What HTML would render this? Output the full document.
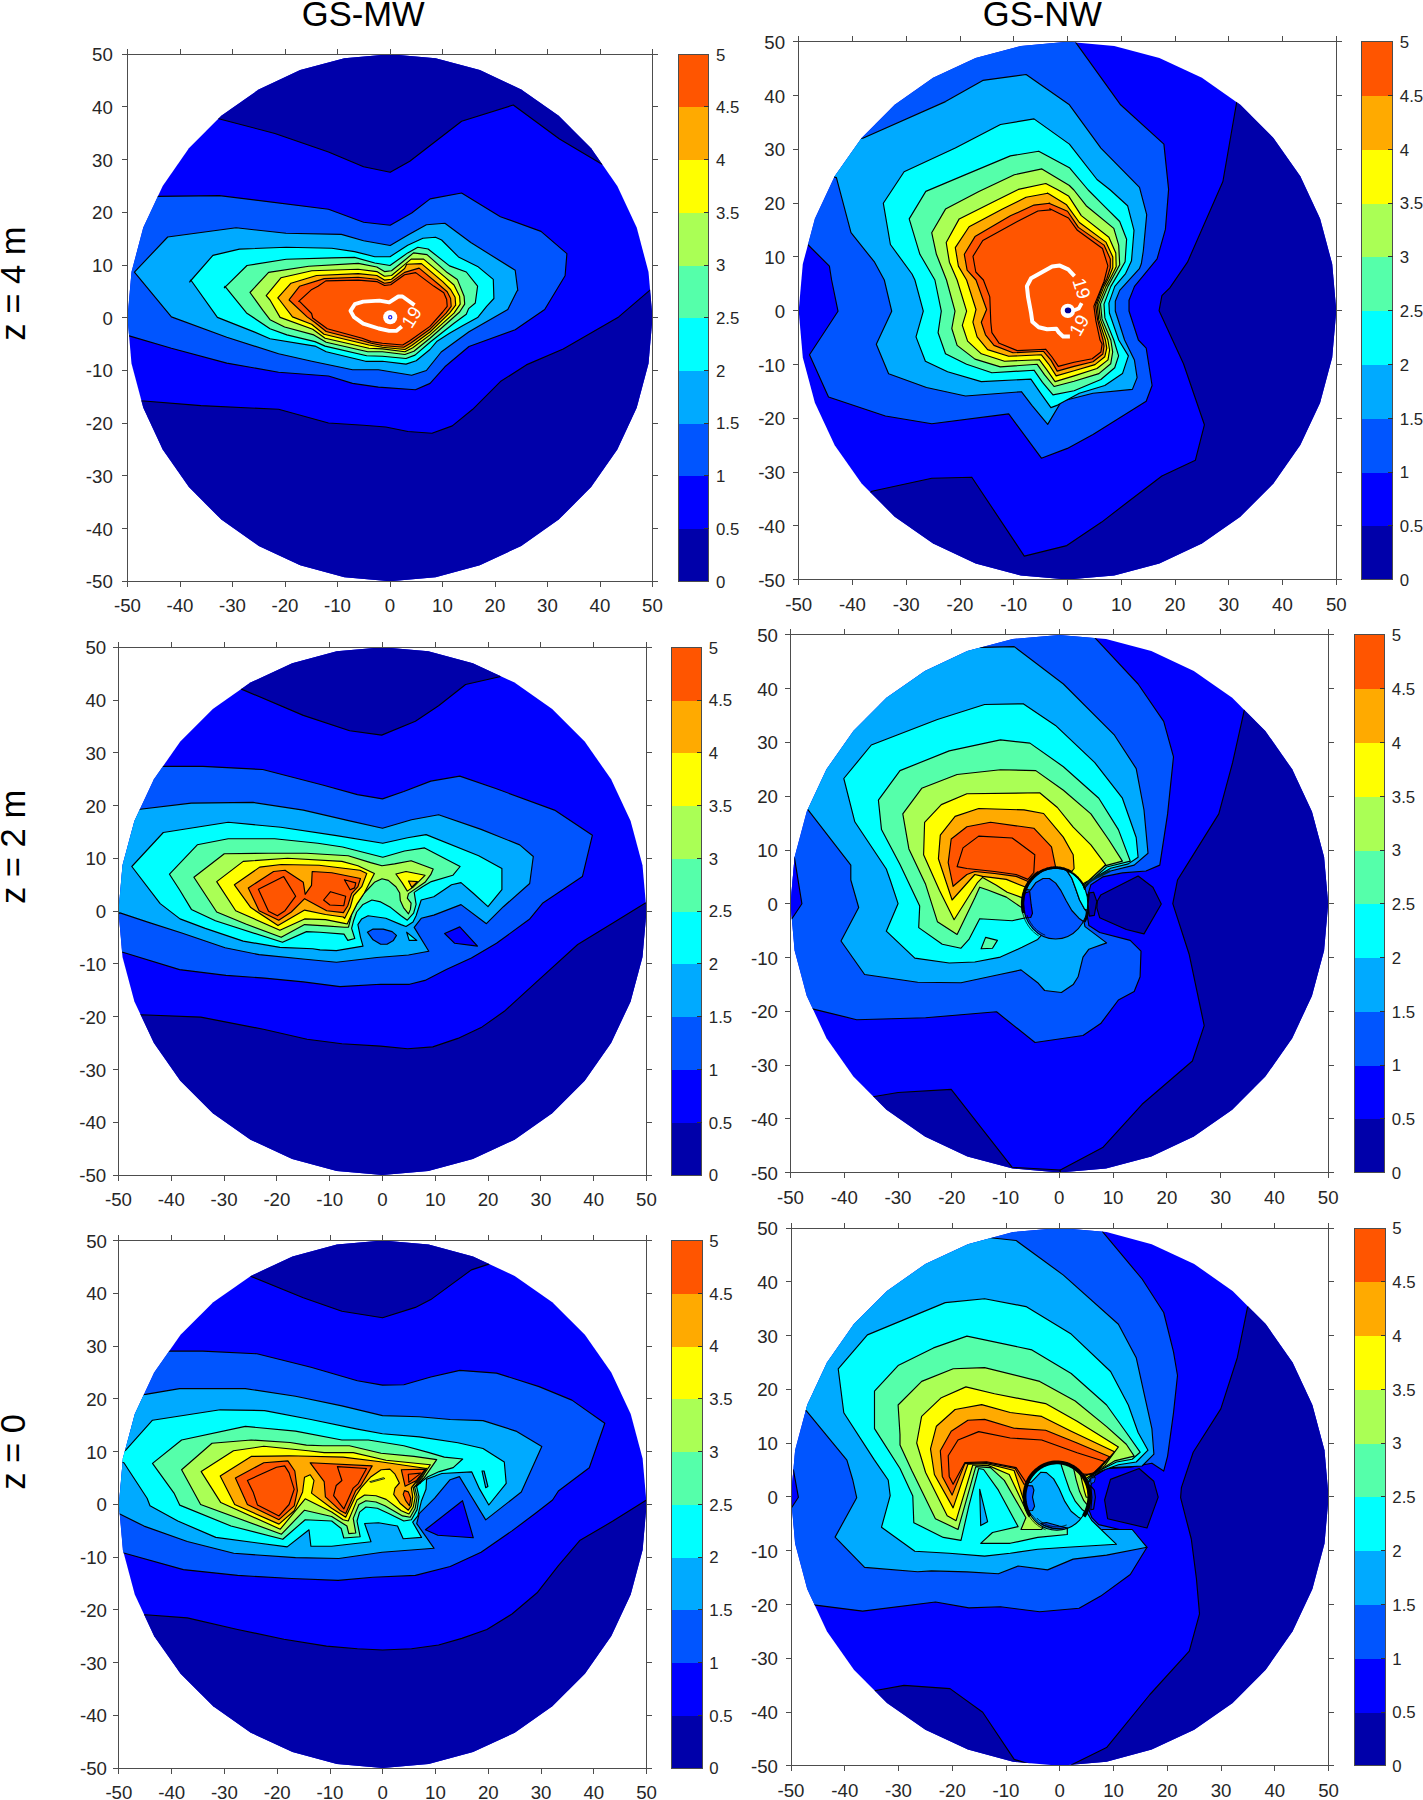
<!DOCTYPE html>
<html lang="en"><head><meta charset="utf-8"><title>Contour panels</title>
<style>
html,body{margin:0;padding:0;background:#fff;}
body{width:1423px;height:1800px;overflow:hidden;}
svg{display:block;font-family:"Liberation Sans",Arial,sans-serif;}
</style></head><body>
<svg width="1423" height="1800" viewBox="0 0 1423 1800">
<rect width="1423" height="1800" fill="#fff"/>
<clipPath id="c1"><polygon points="390.0,54.2 435.6,58.2 479.8,70.1 521.2,89.5 558.7,115.8 591.1,148.3 617.3,186.0 636.7,227.6 648.5,271.9 652.5,317.7 648.5,363.5 636.7,407.8 617.3,449.4 591.1,487.1 558.7,519.6 521.2,545.9 479.8,565.3 435.6,577.2 390.0,581.2 344.4,577.2 300.2,565.3 258.8,545.9 221.3,519.6 188.9,487.1 162.7,449.5 143.3,407.8 131.5,363.5 127.5,317.7 131.5,271.9 143.3,227.6 162.7,186.0 188.9,148.3 221.3,115.8 258.7,89.5 300.2,70.1 344.4,58.2"/></clipPath>
<g clip-path="url(#c1)">
<polygon points="0.0,0.0 800.0,0.0 800.0,700.0 0.0,700.0" fill="#0000ff"/>
<polygon points="182.5,76.2 218.7,118.7 274.9,133.5 328.5,152.0 363.6,166.8 390.2,172.3 409.8,161.2 461.6,121.3 513.3,105.0 559.5,139.0 602.0,164.2 644.6,146.4 644.6,31.8 182.5,31.8" fill="#0000aa" stroke="#000" stroke-width="1.15" stroke-linejoin="round"/>
<polygon points="97.4,392.7 141.0,400.8 200.9,405.6 278.6,409.3 328.5,423.0 363.6,425.2 385.8,427.0 408.0,431.5 432.0,433.3 452.3,425.9 472.7,409.3 500.4,381.6 526.3,364.9 563.2,349.0 618.7,316.9 652.0,288.4 681.5,267.0 681.5,636.7 90.0,636.7" fill="#0000aa" stroke="#000" stroke-width="1.15" stroke-linejoin="round"/>
<polygon points="104.8,196.3 157.7,196.3 219.4,195.6 328.5,209.3 363.6,222.2 390.2,225.2 411.7,213.0 430.1,198.9 461.6,193.0 500.4,216.7 541.0,231.4 566.9,253.6 565.1,275.8 544.7,309.5 515.2,329.8 469.0,346.5 444.9,366.8 430.1,383.4 415.4,389.7 378.4,387.1 352.5,383.4 328.5,376.0 278.6,372.3 226.8,363.1 171.4,348.3 130.0,336.1 104.8,329.8" fill="#0055ff" stroke="#000" stroke-width="1.15" stroke-linejoin="round"/>
<polygon points="134.4,272.1 167.7,237.0 236.1,227.8 286.0,233.3 341.4,234.4 363.6,240.7 390.2,245.5 408.0,235.1 426.4,224.8 444.9,223.3 470.8,242.5 515.2,270.3 517.8,290.6 517.0,291.0 507.8,309.5 469.0,331.7 441.2,352.0 426.4,370.5 411.7,375.3 378.4,369.7 352.5,369.7 311.8,361.2 278.6,353.8 226.8,337.2 171.4,316.9" fill="#00aaff" stroke="#000" stroke-width="1.15" stroke-linejoin="round"/>
<polygon points="189.6,282.0 212.9,255.4 239.4,249.1 286.2,247.3 331.8,248.3 354.6,251.6 374.8,256.7 390.0,256.7 407.7,245.3 422.9,238.2 435.5,237.2 441.6,240.0 458.5,256.9 477.6,266.4 493.3,279.4 493.9,298.5 486.6,306.3 477.6,317.6 463.0,325.5 449.5,333.3 437.1,341.2 430.0,349.5 416.2,360.7 406.0,364.1 382.4,361.3 365.6,361.3 326.2,351.7 315.0,346.1 270.0,338.8 254.1,331.9 217.4,317.4 190.8,280.0" fill="#00ffff" stroke="#000" stroke-width="1.15" stroke-linejoin="round"/>
<polygon points="224.3,287.8 247.0,265.5 286.2,259.2 331.8,257.9 354.6,257.4 374.8,263.0 390.0,265.5 407.7,252.9 417.8,247.3 428.1,249.0 449.5,265.9 466.3,272.0 477.6,286.1 475.3,303.0 468.6,308.6 466.3,314.2 454.0,323.2 430.0,342.2 415.0,355.1 406.0,358.5 382.4,356.2 366.7,355.7 325.1,346.1 315.0,341.6 286.9,334.9 270.0,328.7 246.5,312.9 225.0,286.3" fill="#55ffaa" stroke="#000" stroke-width="1.15" stroke-linejoin="round"/>
<polygon points="250.0,292.5 268.6,272.4 308.8,266.2 358.2,263.4 376.8,267.0 384.5,271.6 391.5,270.8 403.1,261.5 413.5,252.9 427.0,254.6 447.2,272.6 457.3,279.4 464.1,296.2 464.7,304.1 459.6,312.0 449.5,321.0 430.0,338.2 413.9,351.2 404.9,354.5 382.4,351.7 367.8,351.7 326.2,342.2 313.8,334.9 284.6,327.0 270.0,319.7 262.9,310.4" fill="#aaff55" stroke="#000" stroke-width="1.15" stroke-linejoin="round"/>
<polygon points="266.2,295.6 280.9,277.8 311.8,270.8 358.2,269.3 376.8,271.6 384.5,276.2 391.5,275.5 404.6,264.6 411.2,259.1 423.6,259.1 445.0,277.1 454.0,285.0 459.6,296.2 460.2,304.1 454.0,313.1 430.0,334.9 412.8,347.8 404.9,351.7 382.4,348.9 368.9,348.3 325.1,338.2 312.7,329.2 280.1,317.4 270.0,300.0" fill="#ffff00" stroke="#000" stroke-width="1.15" stroke-linejoin="round"/>
<polygon points="277.8,297.9 291.0,283.2 316.5,275.5 358.2,273.6 376.8,275.5 384.5,280.1 391.5,279.3 404.6,268.5 406.7,264.2 421.4,263.6 442.7,281.6 450.6,289.5 455.1,297.3 455.7,305.2 449.5,313.1 430.0,332.0 411.7,345.5 404.9,349.5 382.4,347.2 368.9,345.0 324.0,334.3 311.6,324.2 292.5,316.9 279.6,300.0" fill="#ffaa00" stroke="#000" stroke-width="1.15" stroke-linejoin="round"/>
<polygon points="289.4,299.4 299.5,286.3 324.2,278.6 358.2,277.3 376.8,279.3 384.5,283.2 390.7,282.4 404.6,272.4 419.1,268.1 439.4,285.0 447.2,291.7 450.6,298.5 451.2,306.3 446.1,313.1 430.0,329.2 410.5,343.3 403.8,347.2 382.4,345.5 371.2,343.3 363.3,341.0 326.2,331.5 315.0,322.5 307.1,316.9 289.1,300.0" fill="#ff5500" stroke="#000" stroke-width="1.15" stroke-linejoin="round"/>
<polygon points="298.7,301.4 311.8,289.4 318.0,286.3 325.8,280.9 358.2,280.1 376.8,281.6 384.5,285.5 390.7,284.7 404.6,274.7 415.7,272.6 433.7,286.1 443.8,292.8 446.7,299.6 447.2,306.3 442.7,312.0 430.0,326.4 409.4,341.0 402.7,345.0 382.4,343.3 371.2,341.6 362.2,338.2 327.3,328.7 312.7,318.0 311.6,313.5 299.8,301.7" fill="none" stroke="#000" stroke-width="1.15" stroke-linejoin="round" stroke-linecap="round" />
<polyline points="414.5,305.2 402.5,296.5 398.3,296.5 389.2,302.3 379.4,300.6 363.2,301.6 354.8,304.2 350.5,310.9 354.1,317.2 363.2,323.6 378.7,328.5 389.2,330.9 396.2,330.9 401.8,326.4" fill="none" stroke="#fff" stroke-width="3.90" stroke-linejoin="round" stroke-linecap="butt" />
<circle cx="390.2" cy="317.2" r="7" fill="#fff"/><circle cx="390.2" cy="317.2" r="1.6" fill="none" stroke="#2222ee" stroke-width="1.2"/>
<text x="411.5" y="317.1" font-size="18.7" fill="#fff" text-anchor="middle" transform="rotate(-58 411.5 317.1)" dy="6.6">19</text>
</g>
<g stroke="#4d4d4d" stroke-width="1" fill="none" shape-rendering="crispEdges">
<rect x="127.5" y="54.2" width="525.0" height="527.0"/>
<path d="M127.5 581.2v5.5M127.5 54.2v-5.5M127.5 54.2h-5.5M652.5 54.2h5.5"/>
<path d="M180.0 581.2v5.5M180.0 54.2v-5.5M127.5 106.9h-5.5M652.5 106.9h5.5"/>
<path d="M232.5 581.2v5.5M232.5 54.2v-5.5M127.5 159.6h-5.5M652.5 159.6h5.5"/>
<path d="M285.0 581.2v5.5M285.0 54.2v-5.5M127.5 212.3h-5.5M652.5 212.3h5.5"/>
<path d="M337.5 581.2v5.5M337.5 54.2v-5.5M127.5 265.0h-5.5M652.5 265.0h5.5"/>
<path d="M390.0 581.2v5.5M390.0 54.2v-5.5M127.5 317.7h-5.5M652.5 317.7h5.5"/>
<path d="M442.5 581.2v5.5M442.5 54.2v-5.5M127.5 370.4h-5.5M652.5 370.4h5.5"/>
<path d="M495.0 581.2v5.5M495.0 54.2v-5.5M127.5 423.1h-5.5M652.5 423.1h5.5"/>
<path d="M547.5 581.2v5.5M547.5 54.2v-5.5M127.5 475.8h-5.5M652.5 475.8h5.5"/>
<path d="M600.0 581.2v5.5M600.0 54.2v-5.5M127.5 528.5h-5.5M652.5 528.5h5.5"/>
<path d="M652.5 581.2v5.5M652.5 54.2v-5.5M127.5 581.2h-5.5M652.5 581.2h5.5"/>
</g>
<g font-size="18.67" fill="#262626">
<text x="127.5" y="612.2" text-anchor="middle">-50</text>
<text x="112.8" y="588.2" text-anchor="end">-50</text>
<text x="180.0" y="612.2" text-anchor="middle">-40</text>
<text x="112.8" y="535.5" text-anchor="end">-40</text>
<text x="232.5" y="612.2" text-anchor="middle">-30</text>
<text x="112.8" y="482.8" text-anchor="end">-30</text>
<text x="285.0" y="612.2" text-anchor="middle">-20</text>
<text x="112.8" y="430.1" text-anchor="end">-20</text>
<text x="337.5" y="612.2" text-anchor="middle">-10</text>
<text x="112.8" y="377.4" text-anchor="end">-10</text>
<text x="390.0" y="612.2" text-anchor="middle">0</text>
<text x="112.8" y="324.7" text-anchor="end">0</text>
<text x="442.5" y="612.2" text-anchor="middle">10</text>
<text x="112.8" y="272.0" text-anchor="end">10</text>
<text x="495.0" y="612.2" text-anchor="middle">20</text>
<text x="112.8" y="219.3" text-anchor="end">20</text>
<text x="547.5" y="612.2" text-anchor="middle">30</text>
<text x="112.8" y="166.6" text-anchor="end">30</text>
<text x="600.0" y="612.2" text-anchor="middle">40</text>
<text x="112.8" y="113.9" text-anchor="end">40</text>
<text x="652.5" y="612.2" text-anchor="middle">50</text>
<text x="112.8" y="61.2" text-anchor="end">50</text>
</g>
<g shape-rendering="crispEdges">
<rect x="678.3" y="528.5" width="30.4" height="53.2" fill="#0000aa"/>
<rect x="678.3" y="475.8" width="30.4" height="53.2" fill="#0000ff"/>
<rect x="678.3" y="423.1" width="30.4" height="53.2" fill="#0055ff"/>
<rect x="678.3" y="370.4" width="30.4" height="53.2" fill="#00aaff"/>
<rect x="678.3" y="317.7" width="30.4" height="53.2" fill="#00ffff"/>
<rect x="678.3" y="265.0" width="30.4" height="53.2" fill="#55ffaa"/>
<rect x="678.3" y="212.3" width="30.4" height="53.2" fill="#aaff55"/>
<rect x="678.3" y="159.6" width="30.4" height="53.2" fill="#ffff00"/>
<rect x="678.3" y="106.9" width="30.4" height="53.2" fill="#ffaa00"/>
<rect x="678.3" y="54.2" width="30.4" height="53.2" fill="#ff5500"/>
<rect x="678.3" y="54.2" width="30.4" height="527.0" fill="none" stroke="#4d4d4d" stroke-width="1"/>
<path d="M708.7 528.5h-4.5" stroke="#333" stroke-width="1"/>
<path d="M708.7 475.8h-4.5" stroke="#333" stroke-width="1"/>
<path d="M708.7 423.1h-4.5" stroke="#333" stroke-width="1"/>
<path d="M708.7 370.4h-4.5" stroke="#333" stroke-width="1"/>
<path d="M708.7 317.7h-4.5" stroke="#333" stroke-width="1"/>
<path d="M708.7 265.0h-4.5" stroke="#333" stroke-width="1"/>
<path d="M708.7 212.3h-4.5" stroke="#333" stroke-width="1"/>
<path d="M708.7 159.6h-4.5" stroke="#333" stroke-width="1"/>
<path d="M708.7 106.9h-4.5" stroke="#333" stroke-width="1"/>
</g>
<g font-size="16.8" fill="#262626">
<text x="716.0" y="587.5">0</text>
<text x="716.0" y="534.8">0.5</text>
<text x="716.0" y="482.1">1</text>
<text x="716.0" y="429.4">1.5</text>
<text x="716.0" y="376.7">2</text>
<text x="716.0" y="324.0">2.5</text>
<text x="716.0" y="271.3">3</text>
<text x="716.0" y="218.6">3.5</text>
<text x="716.0" y="165.9">4</text>
<text x="716.0" y="113.2">4.5</text>
<text x="716.0" y="60.5">5</text>
</g>
<clipPath id="c2"><polygon points="1067.5,41.8 1114.2,45.9 1159.4,58.0 1201.9,77.8 1240.3,104.7 1273.4,137.9 1300.3,176.2 1320.1,218.7 1332.2,264.0 1336.3,310.7 1332.2,357.4 1320.1,402.7 1300.3,445.1 1273.4,483.5 1240.3,516.7 1201.9,543.6 1159.4,563.4 1114.2,575.5 1067.5,579.6 1020.8,575.5 975.6,563.4 933.1,543.6 894.7,516.7 861.6,483.5 834.7,445.2 814.9,402.7 802.8,357.4 798.7,310.7 802.8,264.0 814.9,218.7 834.7,176.2 861.6,137.9 894.7,104.7 933.1,77.8 975.6,58.0 1020.8,45.9"/></clipPath>
<g clip-path="url(#c2)">
<polygon points="700.0,0.0 1423.0,0.0 1423.0,700.0 700.0,700.0" fill="#0000ff"/>
<polygon points="1236.7,102.0 1222.9,181.5 1187.5,262.2 1169.8,287.8 1161.9,295.6 1159.1,310.7 1183.5,363.8 1204.4,424.8 1195.4,460.2 1161.9,476.0 1128.4,501.5 1101.7,522.1 1066.8,545.6 1024.3,556.1 971.8,477.2 931.8,478.2 871.9,491.2 811.9,549.6 811.9,649.5 1461.5,649.5 1461.5,50.0 1261.6,50.0" fill="#0000aa" stroke="#000" stroke-width="1.15" stroke-linejoin="round"/>
<polygon points="1075.3,-9.4 1075.3,41.8 1120.6,104.8 1163.9,144.1 1168.6,189.4 1165.4,229.4 1157.1,258.9 1134.5,286.4 1129.0,300.2 1129.0,311.0 1138.4,340.0 1146.2,348.1 1152.1,385.5 1146.2,401.2 1093.0,434.6 1067.4,448.4 1041.4,458.2 1008.7,413.9 931.8,423.8 885.4,416.0 828.5,397.0 809.5,354.8 838.0,311.2 831.6,280.0 829.4,266.1 807.7,244.5 770.3,226.8 750.6,148.1 750.6,-9.4" fill="#0055ff" stroke="#000" stroke-width="1.15" stroke-linejoin="round"/>
<polygon points="829.4,140.2 862.8,138.2 945.5,101.6 982.8,80.4 1026.1,74.5 1069.4,104.8 1100.9,148.1 1139.5,187.4 1146.7,214.6 1143.3,251.0 1141.3,263.8 1139.4,268.7 1119.7,290.4 1115.3,301.2 1115.3,311.0 1124.6,340.0 1134.4,359.9 1137.1,377.6 1132.4,389.4 1093.0,393.3 1061.5,401.2 1047.7,424.4 1031.9,405.4 1021.4,391.7 965.5,396.0 926.5,387.5 888.6,373.8 876.3,344.3 891.7,311.2 884.3,280.0 874.6,262.2 851.0,232.7 836.4,177.6 813.6,171.7" fill="#00aaff" stroke="#000" stroke-width="1.15" stroke-linejoin="round"/>
<polygon points="912.0,274.0 890.4,244.5 883.3,203.2 904.1,171.7 955.3,148.1 1000.5,124.5 1034.0,118.9 1069.4,144.1 1097.0,179.5 1110.3,190.0 1127.6,205.7 1134.0,230.3 1131.5,260.8 1125.6,273.6 1114.8,286.4 1108.9,303.1 1109.4,313.0 1118.7,340.0 1128.4,355.9 1122.5,373.6 1104.8,385.5 1079.3,393.3 1057.6,405.1 1050.9,407.6 1040.4,392.8 1030.9,379.1 981.3,381.6 947.6,371.7 925.4,361.2 916.0,336.9 923.3,311.2 914.9,280.0" fill="#00ffff" stroke="#000" stroke-width="1.15" stroke-linejoin="round"/>
<polygon points="919.9,254.3 909.2,218.9 925.8,191.4 963.2,175.6 1010.4,155.9 1038.7,151.2 1069.4,167.7 1088.2,190.0 1103.0,204.8 1119.7,221.5 1126.6,239.2 1125.1,261.8 1117.7,274.6 1110.8,286.4 1104.0,304.1 1104.9,317.9 1113.8,340.0 1118.6,355.9 1114.7,367.7 1100.9,379.5 1074.1,390.7 1053.0,394.9 1042.5,382.3 1034.0,370.2 991.9,372.8 966.6,364.3 945.5,353.8 938.1,332.7 941.3,311.2 934.9,280.0" fill="#55ffaa" stroke="#000" stroke-width="1.15" stroke-linejoin="round"/>
<polygon points="936.4,254.3 931.7,232.7 945.5,209.1 978.9,191.4 1014.3,174.8 1041.9,168.9 1069.4,185.5 1073.9,190.0 1086.2,205.7 1113.8,228.4 1118.7,245.1 1119.7,264.8 1113.3,276.6 1107.9,286.4 1100.5,304.1 1102.0,318.9 1110.8,340.0 1112.7,352.0 1110.7,363.8 1098.9,373.6 1074.1,381.2 1054.1,386.5 1044.6,374.9 1037.2,364.3 1000.3,366.9 975.0,359.1 957.1,345.4 951.8,328.5 955.0,311.2 946.5,280.0" fill="#aaff55" stroke="#000" stroke-width="1.15" stroke-linejoin="round"/>
<polygon points="949.4,262.2 946.2,242.5 959.2,218.9 994.6,201.2 1018.3,189.4 1045.8,183.5 1058.2,190.0 1068.5,195.9 1081.3,215.6 1108.9,237.2 1115.8,253.0 1116.2,266.7 1110.3,278.5 1105.9,286.4 1098.7,304.1 1100.2,318.9 1107.9,340.0 1109.6,350.0 1108.0,359.9 1097.0,368.5 1074.1,375.9 1055.1,381.6 1046.7,369.6 1039.3,359.7 1004.5,361.2 981.3,353.8 967.6,341.1 962.3,325.3 966.6,311.2 957.1,280.0" fill="#ffff00" stroke="#000" stroke-width="1.15" stroke-linejoin="round"/>
<polygon points="958.4,266.1 955.3,247.6 969.1,226.8 1002.5,209.1 1026.1,197.3 1047.8,193.3 1047.4,193.0 1066.6,204.8 1079.4,222.5 1105.9,242.1 1112.8,256.9 1112.8,267.7 1108.4,278.5 1104.0,286.4 1097.1,304.1 1098.8,319.9 1105.4,340.0 1106.8,348.1 1104.8,356.7 1095.0,364.6 1074.1,370.7 1056.2,375.9 1048.8,364.3 1041.4,354.8 1008.7,356.3 987.6,349.6 977.1,336.9 972.9,322.2 976.0,309.5 966.6,280.0" fill="#ffaa00" stroke="#000" stroke-width="1.15" stroke-linejoin="round"/>
<polygon points="967.1,270.1 964.3,254.3 975.0,236.6 1010.4,215.8 1034.0,205.1 1049.7,203.2 1048.9,203.3 1067.5,211.2 1078.4,227.4 1104.0,245.1 1110.3,258.9 1110.3,267.7 1106.9,278.5 1102.5,286.4 1095.6,305.1 1097.6,319.9 1103.0,340.0 1104.0,346.1 1102.9,354.0 1093.0,361.8 1074.1,366.4 1057.2,371.1 1050.9,360.1 1043.5,351.3 1012.9,352.7 994.0,345.4 985.5,334.8 981.3,322.2 986.6,309.5 976.0,280.0" fill="#ff5500" stroke="#000" stroke-width="1.15" stroke-linejoin="round"/>
<polygon points="975.8,272.0 973.0,256.3 982.8,240.5 1018.3,220.9 1037.9,211.0 1050.5,209.9 1049.8,208.7 1068.5,218.0 1077.4,230.3 1102.5,248.5 1107.9,265.8 1104.0,281.5 1093.9,306.1 1095.9,320.9 1100.0,340.0 1102.1,344.1 1100.9,352.0 1092.2,358.7 1074.1,362.2 1058.3,366.4 1052.0,357.0 1045.6,349.2 1017.2,350.6 999.2,343.3 991.9,332.7 990.8,322.2 989.8,296.9 983.4,280.0" fill="none" stroke="#000" stroke-width="1.15" stroke-linejoin="round" stroke-linecap="round" />
<polyline points="1074.5,276.1 1068.2,269.4 1059.8,265.6 1052.2,266.4 1031.1,278.3 1026.9,286.3 1028.1,297.2 1031.1,313.2 1032.3,321.7 1038.7,327.2 1047.1,329.3 1056.4,328.8 1058.9,332.6 1063.1,336.4 1069.9,336.4" fill="none" stroke="#fff" stroke-width="4.00" stroke-linejoin="round" stroke-linecap="butt" />
<circle cx="1067.8" cy="310.9" r="7.2" fill="#fff"/>
<polyline points="1072.4,311.1 1078.7,308.6 1081.7,303.1" fill="none" stroke="#fff" stroke-width="3.80" stroke-linejoin="round" stroke-linecap="butt" />
<ellipse cx="1068.0" cy="310.4" rx="3.2" ry="2.8" fill="#000096"/>
<text x="1081.7" y="288.4" font-size="18.7" fill="#fff" text-anchor="middle" transform="rotate(73 1081.7 288.4)" dy="6.6">19</text>
<text x="1079.0" y="325.3" font-size="18.7" fill="#fff" text-anchor="middle" transform="rotate(-61 1079.0 325.3)" dy="6.6">19</text>
</g>
<g stroke="#4d4d4d" stroke-width="1" fill="none" shape-rendering="crispEdges">
<rect x="798.7" y="41.8" width="537.6" height="537.8"/>
<path d="M798.7 579.6v5.5M798.7 41.8v-5.5M798.7 41.8h-5.5M1336.3 41.8h5.5"/>
<path d="M852.5 579.6v5.5M852.5 41.8v-5.5M798.7 95.6h-5.5M1336.3 95.6h5.5"/>
<path d="M906.2 579.6v5.5M906.2 41.8v-5.5M798.7 149.4h-5.5M1336.3 149.4h5.5"/>
<path d="M960.0 579.6v5.5M960.0 41.8v-5.5M798.7 203.1h-5.5M1336.3 203.1h5.5"/>
<path d="M1013.7 579.6v5.5M1013.7 41.8v-5.5M798.7 256.9h-5.5M1336.3 256.9h5.5"/>
<path d="M1067.5 579.6v5.5M1067.5 41.8v-5.5M798.7 310.7h-5.5M1336.3 310.7h5.5"/>
<path d="M1121.3 579.6v5.5M1121.3 41.8v-5.5M798.7 364.5h-5.5M1336.3 364.5h5.5"/>
<path d="M1175.0 579.6v5.5M1175.0 41.8v-5.5M798.7 418.3h-5.5M1336.3 418.3h5.5"/>
<path d="M1228.8 579.6v5.5M1228.8 41.8v-5.5M798.7 472.0h-5.5M1336.3 472.0h5.5"/>
<path d="M1282.5 579.6v5.5M1282.5 41.8v-5.5M798.7 525.8h-5.5M1336.3 525.8h5.5"/>
<path d="M1336.3 579.6v5.5M1336.3 41.8v-5.5M798.7 579.6h-5.5M1336.3 579.6h5.5"/>
</g>
<g font-size="18.67" fill="#262626">
<text x="798.7" y="610.6" text-anchor="middle">-50</text>
<text x="785.1" y="586.6" text-anchor="end">-50</text>
<text x="852.5" y="610.6" text-anchor="middle">-40</text>
<text x="785.1" y="532.8" text-anchor="end">-40</text>
<text x="906.2" y="610.6" text-anchor="middle">-30</text>
<text x="785.1" y="479.0" text-anchor="end">-30</text>
<text x="960.0" y="610.6" text-anchor="middle">-20</text>
<text x="785.1" y="425.3" text-anchor="end">-20</text>
<text x="1013.7" y="610.6" text-anchor="middle">-10</text>
<text x="785.1" y="371.5" text-anchor="end">-10</text>
<text x="1067.5" y="610.6" text-anchor="middle">0</text>
<text x="785.1" y="317.7" text-anchor="end">0</text>
<text x="1121.3" y="610.6" text-anchor="middle">10</text>
<text x="785.1" y="263.9" text-anchor="end">10</text>
<text x="1175.0" y="610.6" text-anchor="middle">20</text>
<text x="785.1" y="210.1" text-anchor="end">20</text>
<text x="1228.8" y="610.6" text-anchor="middle">30</text>
<text x="785.1" y="156.4" text-anchor="end">30</text>
<text x="1282.5" y="610.6" text-anchor="middle">40</text>
<text x="785.1" y="102.6" text-anchor="end">40</text>
<text x="1336.3" y="610.6" text-anchor="middle">50</text>
<text x="785.1" y="48.8" text-anchor="end">50</text>
</g>
<g shape-rendering="crispEdges">
<rect x="1361.5" y="525.8" width="31.0" height="54.3" fill="#0000aa"/>
<rect x="1361.5" y="472.0" width="31.0" height="54.3" fill="#0000ff"/>
<rect x="1361.5" y="418.3" width="31.0" height="54.3" fill="#0055ff"/>
<rect x="1361.5" y="364.5" width="31.0" height="54.3" fill="#00aaff"/>
<rect x="1361.5" y="310.7" width="31.0" height="54.3" fill="#00ffff"/>
<rect x="1361.5" y="256.9" width="31.0" height="54.3" fill="#55ffaa"/>
<rect x="1361.5" y="203.1" width="31.0" height="54.3" fill="#aaff55"/>
<rect x="1361.5" y="149.4" width="31.0" height="54.3" fill="#ffff00"/>
<rect x="1361.5" y="95.6" width="31.0" height="54.3" fill="#ffaa00"/>
<rect x="1361.5" y="41.8" width="31.0" height="54.3" fill="#ff5500"/>
<rect x="1361.5" y="41.8" width="31.0" height="537.8" fill="none" stroke="#4d4d4d" stroke-width="1"/>
<path d="M1392.5 525.8h-4.5" stroke="#333" stroke-width="1"/>
<path d="M1392.5 472.0h-4.5" stroke="#333" stroke-width="1"/>
<path d="M1392.5 418.3h-4.5" stroke="#333" stroke-width="1"/>
<path d="M1392.5 364.5h-4.5" stroke="#333" stroke-width="1"/>
<path d="M1392.5 310.7h-4.5" stroke="#333" stroke-width="1"/>
<path d="M1392.5 256.9h-4.5" stroke="#333" stroke-width="1"/>
<path d="M1392.5 203.1h-4.5" stroke="#333" stroke-width="1"/>
<path d="M1392.5 149.4h-4.5" stroke="#333" stroke-width="1"/>
<path d="M1392.5 95.6h-4.5" stroke="#333" stroke-width="1"/>
</g>
<g font-size="16.8" fill="#262626">
<text x="1399.8" y="585.9">0</text>
<text x="1399.8" y="532.1">0.5</text>
<text x="1399.8" y="478.3">1</text>
<text x="1399.8" y="424.6">1.5</text>
<text x="1399.8" y="370.8">2</text>
<text x="1399.8" y="317.0">2.5</text>
<text x="1399.8" y="263.2">3</text>
<text x="1399.8" y="209.4">3.5</text>
<text x="1399.8" y="155.7">4</text>
<text x="1399.8" y="101.9">4.5</text>
<text x="1399.8" y="48.1">5</text>
</g>
<clipPath id="c3"><polygon points="382.5,647.3 428.3,651.3 472.8,663.2 514.5,682.6 552.2,709.0 584.7,741.6 611.1,779.2 630.6,820.9 642.5,865.3 646.5,911.1 642.5,957.0 630.6,1001.4 611.1,1043.1 584.7,1080.7 552.2,1113.3 514.5,1139.7 472.8,1159.1 428.3,1171.0 382.5,1175.0 336.7,1171.0 292.2,1159.1 250.5,1139.7 212.8,1113.3 180.3,1080.7 153.9,1043.1 134.4,1001.4 122.5,957.0 118.5,911.1 122.5,865.3 134.4,820.9 153.9,779.2 180.3,741.6 212.8,709.0 250.5,682.6 292.2,663.2 336.7,651.3"/></clipPath>
<g clip-path="url(#c3)">
<polygon points="0.0,600.0 712.0,600.0 712.0,1250.0 0.0,1250.0" fill="#0000ff"/>
<polygon points="226.0,663.2 241.4,689.1 303.3,715.4 349.7,730.8 381.7,735.1 415.4,721.2 438.6,705.7 465.6,684.5 499.6,676.7 515.9,655.5 515.9,616.8 226.0,616.8" fill="#0000aa" stroke="#000" stroke-width="1.15" stroke-linejoin="round"/>
<polygon points="110.0,1014.8 140.9,1014.8 200.8,1017.1 264.6,1029.5 307.1,1039.2 341.9,1043.8 380.6,1046.1 407.6,1048.8 432.8,1046.9 457.9,1038.4 481.1,1027.6 504.3,1011.3 535.2,983.1 577.7,944.5 612.5,923.2 645.4,903.1 674.4,892.3 674.4,1209.2 90.7,1209.2" fill="#0000aa" stroke="#000" stroke-width="1.15" stroke-linejoin="round"/>
<polygon points="133.2,766.4 163.3,766.4 202.8,766.4 262.7,769.5 322.6,785.0 357.4,794.6 382.5,798.9 403.8,791.5 430.8,781.1 459.8,776.1 496.5,788.8 554.5,810.1 592.4,835.2 582.4,876.6 542.9,902.9 529.4,919.3 496.5,943.3 471.4,958.0 446.3,969.6 425.0,980.4 409.6,984.3 380.6,984.3 340.0,986.6 303.3,981.9 264.6,978.1 226.0,975.4 179.6,969.6 122.8,952.2 94.5,946.4" fill="#0055ff" stroke="#000" stroke-width="1.15" stroke-linejoin="round"/>
<polygon points="444.6,933.5 459.8,926.9 477.5,946.1 454.7,943.3" fill="#0000ff" stroke="#000" stroke-width="1.15" stroke-linejoin="round"/>
<polygon points="110.0,810.1 140.2,809.3 191.2,803.1 253.0,802.4 303.3,810.1 349.7,820.9 382.5,828.2 411.5,819.7 438.6,814.7 481.1,829.4 519.7,844.9 533.3,856.5 529.7,883.5 503.4,906.7 486.4,923.7 461.0,904.6 433.8,915.1 421.2,918.3 414.2,927.4 428.8,951.2 408.5,955.0 376.9,957.5 336.5,962.3 305.5,959.2 259.1,954.6 225.1,947.8 181.8,933.0 147.8,922.1 120.0,912.9 107.6,914.4" fill="#00aaff" stroke="#000" stroke-width="1.15" stroke-linejoin="round"/>
<polygon points="367.4,932.2 373.1,929.1 383.2,929.1 392.1,931.6 396.5,935.4 393.4,940.4 387.0,944.2 380.7,944.2 373.1,939.8" fill="#0055ff" stroke="#000" stroke-width="1.15" stroke-linejoin="round"/>
<polygon points="131.8,866.5 163.3,832.5 228.2,822.3 280.8,827.2 336.5,835.6 382.8,843.3 407.6,837.7 426.1,834.6 478.7,855.7 501.9,868.6 501.9,889.7 488.0,906.7 473.0,893.0 461.0,882.6 451.5,884.8 433.8,896.8 421.2,900.0 416.1,915.8 413.0,922.1 406.0,926.5 401.0,924.6 385.8,918.3 368.1,915.8 361.7,918.9 357.9,924.6 360.5,937.3 363.0,946.1 336.4,950.6 320.0,949.9 312.8,948.7 279.9,947.4 243.2,941.1 205.3,928.4 180.0,918.9 160.2,903.6" fill="#00ffff" stroke="#000" stroke-width="1.15" stroke-linejoin="round"/>
<polygon points="406.6,932.2 416.8,940.4 409.2,940.4" fill="#00ffff" stroke="#000" stroke-width="1.15" stroke-linejoin="round"/>
<polygon points="169.5,874.2 197.3,844.8 228.2,838.7 274.6,838.7 317.9,843.3 342.6,847.0 382.8,857.2 404.5,851.0 424.6,847.9 460.1,866.5 452.8,875.3 431.3,881.6 422.5,886.7 414.2,892.4 416.1,904.4 413.6,913.2 407.3,920.2 401.0,915.8 390.8,907.6 380.7,901.9 371.9,900.0 363.0,904.4 356.7,912.0 353.5,920.8 351.6,928.4 354.8,938.5 347.8,940.4 344.0,934.1 320.0,932.2 306.5,931.6 282.5,942.3 215.4,920.8 191.4,909.4 180.0,890.5" fill="#55ffaa" stroke="#000" stroke-width="1.15" stroke-linejoin="round"/>
<polygon points="193.9,877.2 224.3,853.8 268.5,853.2 306.5,853.2 348.2,855.7 370.6,862.6 382.0,865.8 394.6,863.9 411.1,860.8 433.2,869.0 430.7,874.7 425.0,882.3 408.5,893.6 407.3,898.1 411.1,903.1 410.4,909.4 408.5,913.9 403.5,907.6 400.3,900.6 399.7,893.0 395.9,886.7 388.3,880.4 382.0,878.8 374.4,882.3 364.3,893.0 356.7,904.4 351.6,914.5 348.5,927.2 344.4,927.2 325.5,925.9 304.6,924.6 281.2,937.3 245.8,924.0 216.7,912.0" fill="#aaff55" stroke="#000" stroke-width="1.15" stroke-linejoin="round"/>
<polygon points="216.7,881.6 243.2,861.4 287.5,858.2 341.9,861.4 357.9,865.8 374.4,873.4 364.3,893.0 356.7,904.4 351.6,914.5 347.2,924.0 344.4,923.4 325.5,919.6 304.6,918.9 279.9,930.3 235.7,910.7" fill="#ffff00" stroke="#000" stroke-width="1.15" stroke-linejoin="round"/>
<polygon points="395.9,874.0 406.0,871.5 425.0,875.3 413.6,886.7 407.3,891.1 402.2,882.9" fill="#ffff00" stroke="#000" stroke-width="1.15" stroke-linejoin="round"/>
<polygon points="408.5,881.0 417.4,881.6 411.7,887.3" fill="#ffaa00" stroke="#000" stroke-width="1.15" stroke-linejoin="round"/>
<polygon points="234.4,884.8 259.7,867.1 281.2,864.5 319.1,865.2 360.0,870.2 366.8,873.4 361.7,886.7 353.5,895.5 350.4,906.9 344.7,918.3 343.2,917.0 325.5,914.5 304.6,910.1 278.0,925.6 250.8,907.6" fill="#ffaa00" stroke="#000" stroke-width="1.15" stroke-linejoin="round"/>
<polygon points="248.3,887.9 273.6,871.5 285.0,870.2 303.3,882.3 305.2,894.3 311.5,885.4 312.2,871.5 331.8,872.8 360.5,878.5 357.9,886.7 351.6,893.6 347.8,905.7 343.4,912.6 326.7,910.7 304.6,898.7 291.3,912.0 278.7,920.2 259.1,910.7" fill="#ff5500" stroke="#000" stroke-width="1.15" stroke-linejoin="round"/>
<polygon points="258.4,889.2 283.7,876.6 295.7,896.2 285.0,910.7 277.4,915.8 268.5,911.3" fill="none" stroke="#000" stroke-width="1.15" stroke-linejoin="round" stroke-linecap="round" />
<polygon points="323.6,900.0 330.5,891.7 345.7,896.2 343.8,905.7 329.9,905.0" fill="none" stroke="#000" stroke-width="1.15" stroke-linejoin="round" stroke-linecap="round" />
<polygon points="344.4,879.7 355.8,882.9 354.6,887.9 350.1,889.8" fill="none" stroke="#000" stroke-width="1.15" stroke-linejoin="round" stroke-linecap="round" />
</g>
<g stroke="#4d4d4d" stroke-width="1" fill="none" shape-rendering="crispEdges">
<rect x="118.5" y="647.3" width="528.0" height="527.7"/>
<path d="M118.5 1175.0v5.5M118.5 647.3v-5.5M118.5 647.3h-5.5M646.5 647.3h5.5"/>
<path d="M171.3 1175.0v5.5M171.3 647.3v-5.5M118.5 700.1h-5.5M646.5 700.1h5.5"/>
<path d="M224.1 1175.0v5.5M224.1 647.3v-5.5M118.5 752.8h-5.5M646.5 752.8h5.5"/>
<path d="M276.9 1175.0v5.5M276.9 647.3v-5.5M118.5 805.6h-5.5M646.5 805.6h5.5"/>
<path d="M329.7 1175.0v5.5M329.7 647.3v-5.5M118.5 858.4h-5.5M646.5 858.4h5.5"/>
<path d="M382.5 1175.0v5.5M382.5 647.3v-5.5M118.5 911.1h-5.5M646.5 911.1h5.5"/>
<path d="M435.3 1175.0v5.5M435.3 647.3v-5.5M118.5 963.9h-5.5M646.5 963.9h5.5"/>
<path d="M488.1 1175.0v5.5M488.1 647.3v-5.5M118.5 1016.7h-5.5M646.5 1016.7h5.5"/>
<path d="M540.9 1175.0v5.5M540.9 647.3v-5.5M118.5 1069.5h-5.5M646.5 1069.5h5.5"/>
<path d="M593.7 1175.0v5.5M593.7 647.3v-5.5M118.5 1122.2h-5.5M646.5 1122.2h5.5"/>
<path d="M646.5 1175.0v5.5M646.5 647.3v-5.5M118.5 1175.0h-5.5M646.5 1175.0h5.5"/>
</g>
<g font-size="18.67" fill="#262626">
<text x="118.5" y="1206.0" text-anchor="middle">-50</text>
<text x="106.2" y="1182.0" text-anchor="end">-50</text>
<text x="171.3" y="1206.0" text-anchor="middle">-40</text>
<text x="106.2" y="1129.2" text-anchor="end">-40</text>
<text x="224.1" y="1206.0" text-anchor="middle">-30</text>
<text x="106.2" y="1076.5" text-anchor="end">-30</text>
<text x="276.9" y="1206.0" text-anchor="middle">-20</text>
<text x="106.2" y="1023.7" text-anchor="end">-20</text>
<text x="329.7" y="1206.0" text-anchor="middle">-10</text>
<text x="106.2" y="970.9" text-anchor="end">-10</text>
<text x="382.5" y="1206.0" text-anchor="middle">0</text>
<text x="106.2" y="918.1" text-anchor="end">0</text>
<text x="435.3" y="1206.0" text-anchor="middle">10</text>
<text x="106.2" y="865.4" text-anchor="end">10</text>
<text x="488.1" y="1206.0" text-anchor="middle">20</text>
<text x="106.2" y="812.6" text-anchor="end">20</text>
<text x="540.9" y="1206.0" text-anchor="middle">30</text>
<text x="106.2" y="759.8" text-anchor="end">30</text>
<text x="593.7" y="1206.0" text-anchor="middle">40</text>
<text x="106.2" y="707.1" text-anchor="end">40</text>
<text x="646.5" y="1206.0" text-anchor="middle">50</text>
<text x="106.2" y="654.3" text-anchor="end">50</text>
</g>
<g shape-rendering="crispEdges">
<rect x="671.0" y="1122.2" width="30.5" height="53.3" fill="#0000aa"/>
<rect x="671.0" y="1069.5" width="30.5" height="53.3" fill="#0000ff"/>
<rect x="671.0" y="1016.7" width="30.5" height="53.3" fill="#0055ff"/>
<rect x="671.0" y="963.9" width="30.5" height="53.3" fill="#00aaff"/>
<rect x="671.0" y="911.1" width="30.5" height="53.3" fill="#00ffff"/>
<rect x="671.0" y="858.4" width="30.5" height="53.3" fill="#55ffaa"/>
<rect x="671.0" y="805.6" width="30.5" height="53.3" fill="#aaff55"/>
<rect x="671.0" y="752.8" width="30.5" height="53.3" fill="#ffff00"/>
<rect x="671.0" y="700.1" width="30.5" height="53.3" fill="#ffaa00"/>
<rect x="671.0" y="647.3" width="30.5" height="53.3" fill="#ff5500"/>
<rect x="671.0" y="647.3" width="30.5" height="527.7" fill="none" stroke="#4d4d4d" stroke-width="1"/>
<path d="M701.5 1122.2h-4.5" stroke="#333" stroke-width="1"/>
<path d="M701.5 1069.5h-4.5" stroke="#333" stroke-width="1"/>
<path d="M701.5 1016.7h-4.5" stroke="#333" stroke-width="1"/>
<path d="M701.5 963.9h-4.5" stroke="#333" stroke-width="1"/>
<path d="M701.5 911.1h-4.5" stroke="#333" stroke-width="1"/>
<path d="M701.5 858.4h-4.5" stroke="#333" stroke-width="1"/>
<path d="M701.5 805.6h-4.5" stroke="#333" stroke-width="1"/>
<path d="M701.5 752.8h-4.5" stroke="#333" stroke-width="1"/>
<path d="M701.5 700.1h-4.5" stroke="#333" stroke-width="1"/>
</g>
<g font-size="16.8" fill="#262626">
<text x="708.8" y="1181.3">0</text>
<text x="708.8" y="1128.5">0.5</text>
<text x="708.8" y="1075.8">1</text>
<text x="708.8" y="1023.0">1.5</text>
<text x="708.8" y="970.2">2</text>
<text x="708.8" y="917.4">2.5</text>
<text x="708.8" y="864.7">3</text>
<text x="708.8" y="811.9">3.5</text>
<text x="708.8" y="759.1">4</text>
<text x="708.8" y="706.4">4.5</text>
<text x="708.8" y="653.6">5</text>
</g>
<clipPath id="c4"><polygon points="1059.3,634.9 1106.0,639.0 1151.3,651.1 1193.8,670.9 1232.2,697.8 1265.3,730.9 1292.2,769.3 1312.0,811.8 1324.1,857.1 1328.2,903.8 1324.1,950.4 1312.0,995.7 1292.2,1038.2 1265.3,1076.6 1232.2,1109.7 1193.8,1136.6 1151.3,1156.4 1106.0,1168.5 1059.3,1172.6 1012.7,1168.5 967.4,1156.4 924.9,1136.6 886.5,1109.7 853.4,1076.6 826.5,1038.2 806.7,995.7 794.6,950.4 790.5,903.8 794.6,857.1 806.7,811.8 826.5,769.3 853.4,730.9 886.5,697.8 924.9,670.9 967.4,651.1 1012.7,639.0"/></clipPath>
<g clip-path="url(#c4)">
<polygon points="700.0,600.0 1423.0,600.0 1423.0,1250.0 700.0,1250.0" fill="#0000ff"/>
<polygon points="1271.9,684.0 1244.4,709.6 1232.6,762.7 1218.8,813.9 1189.3,861.1 1177.5,880.0 1172.8,903.6 1189.3,954.8 1204.2,1025.6 1192.4,1061.0 1142.1,1104.3 1102.7,1147.6 1059.4,1170.4 1059.4,1194.8 1370.3,1194.8 1370.3,604.5" fill="#0000aa" stroke="#000" stroke-width="1.15" stroke-linejoin="round"/>
<polygon points="858.7,1100.4 874.5,1096.5 898.1,1092.5 951.2,1089.4 1012.2,1167.3 1060.2,1170.0 1060.2,1194.8 839.0,1194.8" fill="#0000aa" stroke="#000" stroke-width="1.15" stroke-linejoin="round"/>
<polygon points="1094.8,585.6 1094.8,637.6 1138.1,684.0 1163.7,721.4 1173.5,756.8 1167.6,813.9 1159.8,865.1 1146.0,871.0 1122.4,872.9 1102.7,876.9 1090.9,884.7 1086.9,898.1 1086.9,913.8 1088.9,925.6 1099.7,932.5 1130.2,940.4 1141.0,951.2 1140.1,976.8 1134.2,991.5 1118.4,1000.0 1100.7,1023.6 1083.0,1035.5 1035.0,1042.5 996.5,1011.8 925.6,1017.7 856.7,1019.7 813.5,1009.1 760.3,998.1 740.6,861.1 740.6,585.6" fill="#0055ff" stroke="#000" stroke-width="1.15" stroke-linejoin="round"/>
<polygon points="1097.4,901.0 1100.7,895.1 1138.1,876.0 1152.9,887.2 1161.3,904.0 1144.0,933.9 1126.3,929.5 1099.7,917.7 1096.8,907.9" fill="#0000aa" stroke="#000" stroke-width="1.15" stroke-linejoin="round"/>
<polygon points="794.4,857.3 801.9,903.8 791.9,918.8 762.0,889.8" fill="#0000ff" stroke="#000" stroke-width="1.15" stroke-linejoin="round"/>
<polygon points="976.8,617.1 980.7,647.4 1014.2,646.6 1063.4,684.0 1114.5,735.2 1136.2,768.6 1144.0,810.0 1148.0,853.3 1134.2,865.1 1110.6,871.0 1094.8,876.9 1086.6,883.1 1080.3,904.2 1085.0,926.6 1106.6,942.9 1088.9,949.2 1083.0,957.1 1078.1,976.8 1073.2,984.6 1061.4,992.5 1044.6,990.5 1037.7,982.7 1021.0,969.9 998.4,974.8 961.0,982.7 917.7,982.3 864.6,974.5 841.0,941.0 858.7,907.5 850.8,880.0 850.8,865.1 807.5,809.2 772.1,798.2 772.1,617.1" fill="#00aaff" stroke="#000" stroke-width="1.15" stroke-linejoin="round"/>
<polygon points="843.8,778.5 871.3,745.0 937.4,719.5 984.6,704.5 1023.2,703.7 1055.5,725.4 1094.8,762.7 1122.4,798.2 1136.2,837.5 1138.1,857.2 1128.3,863.9 1110.6,868.2 1092.9,878.8 1057.4,917.7 1037.7,939.4 1022.0,947.3 1000.4,957.1 974.8,962.0 949.2,963.0 914.8,958.1 886.3,931.2 898.1,903.6 890.2,880.0 886.3,869.0 854.8,821.8" fill="#00ffff" stroke="#000" stroke-width="1.15" stroke-linejoin="round"/>
<polygon points="878.4,800.1 900.0,770.6 949.2,750.9 1000.4,739.9 1029.9,743.1 1063.4,766.7 1098.8,798.2 1118.4,829.6 1130.3,861.1 1106.6,867.0 1090.9,880.8 1057.4,907.9 1025.9,917.7 1012.2,920.7 979.7,918.7 968.9,939.4 961.0,948.2 942.3,944.3 918.7,927.6 919.7,905.9 900.0,864.6 881.5,829.6" fill="#55ffaa" stroke="#000" stroke-width="1.15" stroke-linejoin="round"/>
<polygon points="985.6,937.4 997.4,940.4 992.5,948.2 981.1,948.8" fill="#55ffaa" stroke="#000" stroke-width="1.15" stroke-linejoin="round"/>
<polygon points="902.8,813.9 921.7,788.3 957.1,774.5 1000.4,769.8 1035.8,770.6 1063.4,790.3 1090.9,813.9 1108.6,839.5 1122.4,861.1 1104.7,865.9 1088.9,880.8 1057.4,905.9 1022.0,907.9 1006.3,897.1 988.5,890.2 979.7,887.2 974.8,898.1 957.1,934.5 937.4,921.7 925.6,884.3 908.9,848.9" fill="#aaff55" stroke="#000" stroke-width="1.15" stroke-linejoin="round"/>
<polygon points="923.6,854.8 924.6,822.3 941.3,804.6 966.9,793.8 1039.7,792.8 1057.4,807.5 1073.2,827.2 1090.9,844.9 1105.6,864.6 1088.9,880.4 1057.4,898.1 1023.0,898.1 1007.2,892.2 996.4,885.3 982.6,877.4 977.7,882.3 954.1,919.7 939.4,890.2" fill="#ffff00" stroke="#000" stroke-width="1.15" stroke-linejoin="round"/>
<polygon points="938.4,858.7 940.3,835.1 955.1,816.4 978.7,808.5 1024.0,809.9 1043.6,813.5 1063.3,837.1 1073.2,854.8 1074.1,868.5 1057.4,890.2 1025.9,887.2 1006.3,879.4 982.6,876.4 974.8,874.5 952.1,900.0" fill="#ffaa00" stroke="#000" stroke-width="1.15" stroke-linejoin="round"/>
<polygon points="948.2,862.6 951.2,839.0 966.9,826.8 990.5,822.3 1033.8,828.2 1051.5,846.9 1055.5,866.6 1049.5,882.3 1029.9,882.3 1016.1,876.4 994.5,873.5 974.8,871.5 966.9,874.5 953.1,886.3" fill="#ff5500" stroke="#000" stroke-width="1.15" stroke-linejoin="round"/>
<polygon points="957.1,866.6 963.0,847.9 978.7,836.1 1012.2,838.0 1034.8,854.8 1033.8,872.5 1027.9,879.4 1016.1,874.5 994.5,871.5 966.9,868.5" fill="none" stroke="#000" stroke-width="1.15" stroke-linejoin="round" stroke-linecap="round" />
<polyline points="1110.0,871.0 1097.8,876.8 1087.0,883.0" fill="none" stroke="#002a2a" stroke-width="2.40" stroke-linejoin="round" stroke-linecap="butt" />
<clipPath id="w4"><ellipse cx="1055.6" cy="903.6" rx="32.2" ry="35.4"/></clipPath>
<g clip-path="url(#w4)">
<polygon points="1010.0,855.0 1110.0,855.0 1110.0,950.0 1010.0,950.0" fill="#0055ff"/>
<polygon points="1020.5,888.7 1024.1,876.1 1038.1,865.5 1059.2,862.0 1068.3,872.9 1071.8,878.2 1075.4,888.0 1079.6,900.0 1084.5,909.1 1086.2,911.2 1087.0,920.4 1085.2,922.8 1078.9,918.2 1071.8,910.5 1066.2,900.7 1060.6,890.1 1055.7,883.1 1049.4,878.5 1043.0,878.5 1036.0,882.4 1030.4,890.1" fill="#00aaff" stroke="#000" stroke-width="1.15" stroke-linejoin="round"/>
<polygon points="1068.3,872.9 1068.3,862.0 1094.3,862.0 1094.3,909.8 1085.9,909.8 1084.5,909.1 1079.6,900.0 1075.4,888.0 1071.8,878.2" fill="#00ffff" stroke="#000" stroke-width="1.15" stroke-linejoin="round"/>
<polygon points="1083.1,884.5 1090.8,881.0 1090.8,888.7 1084.5,889.4" fill="#55ffaa" stroke="#000" stroke-width="1.15" stroke-linejoin="round"/>
<polygon points="1020.5,894.4 1029.7,891.5 1031.1,904.2 1032.5,913.3 1030.7,917.5 1020.5,918.2" fill="#0000ff" stroke="#000" stroke-width="1.15" stroke-linejoin="round"/>
</g>
<ellipse cx="1055.6" cy="903.6" rx="32.2" ry="35.4" fill="none" stroke="#000" stroke-width="1.1"/>
<polyline points="1023.7,913.0 1023.5,911.8 1023.2,910.7 1023.0,909.5 1022.9,908.3 1022.8,907.1 1022.7,906.0 1022.6,904.8 1022.6,903.6 1022.6,902.4 1022.7,901.2 1022.8,900.1 1022.9,898.9 1023.0,897.7 1023.2,896.5 1023.5,895.4 1023.7,894.2 1024.0,893.1 1024.4,892.0 1024.7,890.8 1025.1,889.7 1025.5,888.7 1026.0,887.6 1026.5,886.5 1027.0,885.5 1027.6,884.5 1028.2,883.5 1028.8,882.5 1029.4,881.6 1030.1,880.6 1030.8,879.7 1031.5,878.9 1032.3,878.0 1033.0,877.2 1033.8,876.4 1034.7,875.6 1035.5,874.9 1036.4,874.2 1037.3,873.5 1038.2,872.9 1039.1,872.2" fill="none" stroke="#000" stroke-width="3.40" stroke-linejoin="round" stroke-linecap="butt" />
<polyline points="1039.2,872.4 1039.9,872.0 1040.7,871.5 1041.5,871.1 1042.3,870.7 1043.0,870.3 1043.8,870.0 1044.7,869.7 1045.5,869.4 1046.3,869.1 1047.1,868.8 1047.9,868.6 1048.8,868.4 1049.6,868.2 1050.5,868.0 1051.3,867.9 1052.2,867.8 1053.0,867.7 1053.9,867.6 1054.7,867.6 1055.6,867.6 1056.5,867.6 1057.3,867.6 1058.2,867.7 1059.0,867.8 1059.9,867.9 1060.7,868.0 1061.6,868.2 1062.4,868.4 1063.3,868.6 1064.1,868.8 1064.9,869.1 1065.7,869.4 1066.5,869.7 1067.4,870.0 1068.2,870.3 1068.9,870.7 1069.7,871.1 1070.5,871.5 1071.3,872.0 1072.0,872.4" fill="none" stroke="#000" stroke-width="2.60" stroke-linejoin="round" stroke-linecap="butt" />
<polyline points="1071.8,872.7 1072.3,873.0 1072.7,873.2 1073.1,873.5 1073.5,873.8 1073.9,874.1 1074.4,874.4 1074.8,874.8 1075.2,875.1 1075.6,875.4 1075.9,875.8 1076.3,876.1 1076.7,876.5 1077.1,876.8 1077.5,877.2 1077.8,877.5 1078.2,877.9 1078.5,878.3 1078.9,878.7 1079.2,879.1 1079.6,879.5 1079.9,879.9 1080.2,880.3 1080.5,880.7 1080.9,881.1 1081.2,881.6 1081.5,882.0 1081.8,882.4 1082.1,882.9 1082.3,883.3 1082.6,883.8 1082.9,884.2 1083.2,884.7 1083.4,885.1 1083.7,885.6 1083.9,886.1 1084.2,886.6 1084.4,887.0 1084.6,887.5 1084.8,888.0 1085.1,888.5" fill="none" stroke="#000" stroke-width="1.80" stroke-linejoin="round" stroke-linecap="butt" />
<polyline points="1038.6,935.8 1037.9,935.4 1037.2,934.9 1036.5,934.4 1035.9,933.9 1035.2,933.4 1034.6,932.8 1033.9,932.3 1033.3,931.7 1032.7,931.1 1032.1,930.5 1031.5,929.8 1030.9,929.2 1030.4,928.6 1029.8,927.9 1029.3,927.2 1028.8,926.5 1028.3,925.8 1027.8,925.1 1027.4,924.3 1026.9,923.6 1026.5,922.8 1026.1,922.1 1025.7,921.3 1025.3,920.5 1024.9,919.7 1024.6,918.9 1024.3,918.1 1024.0,917.2 1023.7,916.4 1023.4,915.6 1023.2,914.7 1022.9,913.9 1022.7,913.0 1022.5,912.1 1022.3,911.3 1022.2,910.4 1022.0,909.5 1021.9,908.6 1021.8,907.7 1021.7,906.8" fill="none" stroke="#000" stroke-width="0.90" stroke-linejoin="round" stroke-linecap="butt" />
<polyline points="1045.2,935.2 1044.6,934.9 1044.0,934.6 1043.4,934.4 1042.8,934.1 1042.2,933.7 1041.6,933.4 1041.0,933.1 1040.4,932.7 1039.8,932.3 1039.3,931.9 1038.7,931.5 1038.2,931.1 1037.6,930.7 1037.1,930.3 1036.6,929.8 1036.1,929.3 1035.6,928.9 1035.1,928.4 1034.6,927.9 1034.1,927.4 1033.6,926.8 1033.2,926.3 1032.7,925.8 1032.3,925.2 1031.9,924.6 1031.5,924.1 1031.1,923.5 1030.7,922.9 1030.3,922.3 1030.0,921.7 1029.6,921.0 1029.3,920.4 1028.9,919.8 1028.6,919.1 1028.3,918.5 1028.0,917.8 1027.8,917.1 1027.5,916.5 1027.3,915.8 1027.0,915.1" fill="none" stroke="#000" stroke-width="0.90" stroke-linejoin="round" stroke-linecap="butt" />
<polyline points="1087.9,894.1 1088.0,894.8 1088.2,895.5 1088.3,896.2 1088.4,896.9 1088.6,897.6 1088.7,898.3 1088.7,899.1 1088.8,899.8 1088.9,900.5 1088.9,901.2 1089.0,901.9 1089.0,902.6 1089.0,903.4 1089.0,904.1 1089.0,904.8 1089.0,905.5 1088.9,906.2 1088.9,906.9 1088.8,907.7 1088.7,908.4 1088.6,909.1 1088.5,909.8 1088.4,910.5 1088.3,911.2 1088.1,911.9 1088.0,912.6 1087.8,913.3 1087.6,914.0 1087.4,914.7 1087.2,915.4 1087.0,916.0 1086.8,916.7 1086.5,917.4 1086.3,918.0 1086.0,918.7 1085.7,919.4 1085.5,920.0 1085.2,920.6 1084.8,921.3 1084.5,921.9" fill="none" stroke="#000" stroke-width="2.20" stroke-linejoin="round" stroke-linecap="butt" />
<polygon points="1089.4,892.9 1093.6,892.2 1096.8,901.4 1094.3,915.4 1089.4,916.1 1088.1,904.2" fill="#0000aa" stroke="#000" stroke-width="1.15" stroke-linejoin="round"/>
</g>
<g stroke="#4d4d4d" stroke-width="1" fill="none" shape-rendering="crispEdges">
<rect x="790.5" y="634.9" width="537.7" height="537.7"/>
<path d="M790.5 1172.6v5.5M790.5 634.9v-5.5M790.5 634.9h-5.5M1328.2 634.9h5.5"/>
<path d="M844.3 1172.6v5.5M844.3 634.9v-5.5M790.5 688.7h-5.5M1328.2 688.7h5.5"/>
<path d="M898.0 1172.6v5.5M898.0 634.9v-5.5M790.5 742.4h-5.5M1328.2 742.4h5.5"/>
<path d="M951.8 1172.6v5.5M951.8 634.9v-5.5M790.5 796.2h-5.5M1328.2 796.2h5.5"/>
<path d="M1005.6 1172.6v5.5M1005.6 634.9v-5.5M790.5 850.0h-5.5M1328.2 850.0h5.5"/>
<path d="M1059.3 1172.6v5.5M1059.3 634.9v-5.5M790.5 903.8h-5.5M1328.2 903.8h5.5"/>
<path d="M1113.1 1172.6v5.5M1113.1 634.9v-5.5M790.5 957.5h-5.5M1328.2 957.5h5.5"/>
<path d="M1166.9 1172.6v5.5M1166.9 634.9v-5.5M790.5 1011.3h-5.5M1328.2 1011.3h5.5"/>
<path d="M1220.7 1172.6v5.5M1220.7 634.9v-5.5M790.5 1065.1h-5.5M1328.2 1065.1h5.5"/>
<path d="M1274.4 1172.6v5.5M1274.4 634.9v-5.5M790.5 1118.8h-5.5M1328.2 1118.8h5.5"/>
<path d="M1328.2 1172.6v5.5M1328.2 634.9v-5.5M790.5 1172.6h-5.5M1328.2 1172.6h5.5"/>
</g>
<g font-size="18.67" fill="#262626">
<text x="790.5" y="1203.6" text-anchor="middle">-50</text>
<text x="777.9" y="1179.6" text-anchor="end">-50</text>
<text x="844.3" y="1203.6" text-anchor="middle">-40</text>
<text x="777.9" y="1125.8" text-anchor="end">-40</text>
<text x="898.0" y="1203.6" text-anchor="middle">-30</text>
<text x="777.9" y="1072.1" text-anchor="end">-30</text>
<text x="951.8" y="1203.6" text-anchor="middle">-20</text>
<text x="777.9" y="1018.3" text-anchor="end">-20</text>
<text x="1005.6" y="1203.6" text-anchor="middle">-10</text>
<text x="777.9" y="964.5" text-anchor="end">-10</text>
<text x="1059.3" y="1203.6" text-anchor="middle">0</text>
<text x="777.9" y="910.8" text-anchor="end">0</text>
<text x="1113.1" y="1203.6" text-anchor="middle">10</text>
<text x="777.9" y="857.0" text-anchor="end">10</text>
<text x="1166.9" y="1203.6" text-anchor="middle">20</text>
<text x="777.9" y="803.2" text-anchor="end">20</text>
<text x="1220.7" y="1203.6" text-anchor="middle">30</text>
<text x="777.9" y="749.4" text-anchor="end">30</text>
<text x="1274.4" y="1203.6" text-anchor="middle">40</text>
<text x="777.9" y="695.7" text-anchor="end">40</text>
<text x="1328.2" y="1203.6" text-anchor="middle">50</text>
<text x="777.9" y="641.9" text-anchor="end">50</text>
</g>
<g shape-rendering="crispEdges">
<rect x="1354.0" y="1118.8" width="30.5" height="54.3" fill="#0000aa"/>
<rect x="1354.0" y="1065.1" width="30.5" height="54.3" fill="#0000ff"/>
<rect x="1354.0" y="1011.3" width="30.5" height="54.3" fill="#0055ff"/>
<rect x="1354.0" y="957.5" width="30.5" height="54.3" fill="#00aaff"/>
<rect x="1354.0" y="903.8" width="30.5" height="54.3" fill="#00ffff"/>
<rect x="1354.0" y="850.0" width="30.5" height="54.3" fill="#55ffaa"/>
<rect x="1354.0" y="796.2" width="30.5" height="54.3" fill="#aaff55"/>
<rect x="1354.0" y="742.4" width="30.5" height="54.3" fill="#ffff00"/>
<rect x="1354.0" y="688.7" width="30.5" height="54.3" fill="#ffaa00"/>
<rect x="1354.0" y="634.9" width="30.5" height="54.3" fill="#ff5500"/>
<rect x="1354.0" y="634.9" width="30.5" height="537.7" fill="none" stroke="#4d4d4d" stroke-width="1"/>
<path d="M1384.5 1118.8h-4.5" stroke="#333" stroke-width="1"/>
<path d="M1384.5 1065.1h-4.5" stroke="#333" stroke-width="1"/>
<path d="M1384.5 1011.3h-4.5" stroke="#333" stroke-width="1"/>
<path d="M1384.5 957.5h-4.5" stroke="#333" stroke-width="1"/>
<path d="M1384.5 903.8h-4.5" stroke="#333" stroke-width="1"/>
<path d="M1384.5 850.0h-4.5" stroke="#333" stroke-width="1"/>
<path d="M1384.5 796.2h-4.5" stroke="#333" stroke-width="1"/>
<path d="M1384.5 742.4h-4.5" stroke="#333" stroke-width="1"/>
<path d="M1384.5 688.7h-4.5" stroke="#333" stroke-width="1"/>
</g>
<g font-size="16.8" fill="#262626">
<text x="1391.8" y="1178.9">0</text>
<text x="1391.8" y="1125.1">0.5</text>
<text x="1391.8" y="1071.4">1</text>
<text x="1391.8" y="1017.6">1.5</text>
<text x="1391.8" y="963.8">2</text>
<text x="1391.8" y="910.0">2.5</text>
<text x="1391.8" y="856.3">3</text>
<text x="1391.8" y="802.5">3.5</text>
<text x="1391.8" y="748.7">4</text>
<text x="1391.8" y="695.0">4.5</text>
<text x="1391.8" y="641.2">5</text>
</g>
<clipPath id="c5"><polygon points="382.8,1240.6 428.6,1244.6 473.0,1256.5 514.7,1275.9 552.3,1302.3 584.9,1334.8 611.3,1372.4 630.7,1414.1 642.6,1458.5 646.6,1504.3 642.6,1550.1 630.7,1594.5 611.3,1636.1 584.9,1673.8 552.3,1706.3 514.7,1732.7 473.0,1752.1 428.6,1764.0 382.8,1768.0 336.9,1764.0 292.5,1752.1 250.8,1732.7 213.2,1706.3 180.6,1673.8 154.2,1636.2 134.8,1594.5 122.9,1550.1 118.9,1504.3 122.9,1458.5 134.8,1414.1 154.2,1372.4 180.6,1334.8 213.2,1302.3 250.8,1275.9 292.5,1256.5 336.9,1244.6"/></clipPath>
<g clip-path="url(#c5)">
<polygon points="0.0,1200.0 712.0,1200.0 712.0,1800.0 0.0,1800.0" fill="#0000ff"/>
<polygon points="237.6,1255.2 251.1,1276.5 303.3,1297.7 341.9,1311.2 382.5,1317.8 415.4,1307.4 430.8,1299.6 471.4,1269.9 488.8,1264.1 504.3,1243.6 504.3,1208.8 237.6,1208.8" fill="#0000aa" stroke="#000" stroke-width="1.15" stroke-linejoin="round"/>
<polygon points="110.0,1614.8 145.6,1614.8 187.3,1617.9 237.6,1629.5 283.9,1639.2 326.5,1646.1 357.4,1648.8 382.5,1650.0 411.5,1648.8 438.6,1645.0 461.8,1638.4 486.9,1629.5 512.0,1614.0 537.1,1592.8 558.4,1565.7 579.7,1540.6 612.5,1521.3 646.5,1500.0 674.4,1488.4 674.4,1809.2 90.7,1809.2" fill="#0000aa" stroke="#000" stroke-width="1.15" stroke-linejoin="round"/>
<polygon points="140.9,1351.1 170.7,1351.1 202.8,1351.1 256.9,1353.8 311.0,1367.3 357.4,1380.8 382.5,1385.1 403.8,1384.7 430.8,1377.0 459.8,1370.4 496.5,1373.1 539.1,1386.6 571.9,1400.1 604.8,1423.3 589.3,1467.8 558.4,1491.0 552.6,1500.0 535.2,1513.5 512.0,1530.9 481.1,1552.2 450.2,1566.5 415.4,1575.4 372.9,1577.3 338.1,1580.4 291.7,1578.5 237.6,1575.4 183.4,1569.6 124.7,1553.3 94.5,1546.4" fill="#0055ff" stroke="#000" stroke-width="1.15" stroke-linejoin="round"/>
<polygon points="425.4,1529.8 462.5,1500.7 473.3,1537.8 437.8,1535.3" fill="#0000ff" stroke="#000" stroke-width="1.15" stroke-linejoin="round"/>
<polygon points="110.0,1396.3 145.6,1394.4 179.6,1388.6 245.3,1388.6 295.5,1396.3 341.9,1405.9 382.5,1415.6 419.2,1416.8 450.2,1419.5 483.0,1420.6 515.9,1431.1 541.8,1446.5 521.3,1492.0 485.7,1519.9 468.7,1492.0 459.4,1476.6 450.1,1479.7 434.7,1498.2 419.2,1513.7 416.7,1523.6 434.1,1548.3 382.1,1552.3 338.8,1558.5 295.5,1557.6 233.7,1553.3 187.3,1541.5 144.0,1526.1 119.3,1513.7 91.4,1513.7" fill="#00aaff" stroke="#000" stroke-width="1.15" stroke-linejoin="round"/>
<polygon points="106.1,1456.2 125.5,1450.4 152.5,1420.2 220.2,1409.8 264.6,1410.6 311.0,1419.5 357.4,1429.1 382.5,1433.8 419.2,1436.9 457.9,1442.7 483.0,1448.5 504.3,1462.0 506.2,1483.3 488.8,1505.0 479.5,1488.9 471.8,1471.9 441.8,1473.5 426.6,1479.2 426.0,1489.3 421.5,1500.7 417.8,1515.9 412.7,1522.2 421.5,1537.4 403.2,1538.7 397.5,1526.0 378.5,1522.8 364.6,1523.5 371.0,1541.8 353.2,1543.7 331.7,1546.2 310.9,1546.2 309.0,1529.8 287.2,1546.9 215.8,1537.4 177.8,1521.0 150.0,1505.8 147.1,1498.2 123.9,1462.7 110.0,1459.6" fill="#00ffff" stroke="#000" stroke-width="1.15" stroke-linejoin="round"/>
<polygon points="482.0,1471.0 484.1,1471.0 487.9,1486.5 485.7,1487.7" fill="#00aaff" stroke="#000" stroke-width="1.15" stroke-linejoin="round"/>
<polygon points="152.5,1463.4 181.6,1440.0 245.3,1426.4 295.5,1431.1 341.9,1440.0 368.4,1440.0 403.8,1445.7 429.1,1452.6 444.3,1457.1 462.7,1459.0 453.2,1467.6 439.3,1471.6 427.9,1476.7 421.5,1481.7 416.5,1486.2 419.0,1496.9 417.1,1509.6 411.4,1519.7 403.8,1521.0 388.7,1513.4 377.3,1508.3 365.9,1507.0 359.6,1512.1 357.0,1521.0 360.2,1536.8 343.8,1538.0 341.2,1528.5 331.7,1521.0 305.2,1519.7 282.8,1539.3 231.0,1526.0 179.7,1505.1 174.0,1493.1" fill="#55ffaa" stroke="#000" stroke-width="1.15" stroke-linejoin="round"/>
<polygon points="181.6,1469.7 212.0,1443.2 251.2,1440.0 290.0,1442.5 306.4,1445.1 322.9,1445.7 349.4,1445.7 381.1,1453.3 414.0,1456.4 436.7,1459.6 424.1,1477.9 419.0,1483.0 414.6,1486.8 417.1,1496.9 415.2,1508.3 410.2,1517.2 402.6,1515.9 384.9,1505.8 376.0,1502.0 365.9,1500.7 358.9,1504.5 353.2,1518.4 355.8,1533.0 348.8,1533.6 346.9,1526.0 331.7,1516.5 304.5,1510.2 281.5,1534.2 200.6,1504.5" fill="#aaff55" stroke="#000" stroke-width="1.15" stroke-linejoin="round"/>
<polygon points="201.2,1471.6 233.5,1450.8 263.8,1446.3 308.1,1450.8 324.2,1452.6 353.2,1452.6 386.1,1460.2 430.4,1464.7 419.0,1481.7 413.3,1488.1 415.2,1496.9 413.3,1507.0 408.9,1514.0 401.3,1510.8 386.1,1499.4 376.0,1495.7 364.6,1495.0 357.0,1500.1 348.2,1521.0 343.1,1519.7 331.7,1512.1 305.2,1498.8 280.3,1529.2 220.8,1502.6" fill="#ffff00" stroke="#000" stroke-width="1.15" stroke-linejoin="round"/>
<polygon points="369.7,1481.7 383.6,1477.7 384.9,1478.6 371.0,1482.4" fill="#aaff55" stroke="#000" stroke-width="0.80" stroke-linejoin="round"/>
<polygon points="220.2,1476.0 251.2,1456.4 289.1,1455.8 343.1,1457.1 378.5,1461.5 426.6,1468.5 416.5,1481.7 411.4,1488.1 412.7,1496.9 411.4,1505.8 408.3,1510.2 400.0,1503.2 393.7,1494.4 395.0,1488.1 399.4,1483.0 395.0,1474.2 389.9,1469.1 381.1,1469.7 371.0,1476.7 360.8,1488.1 355.8,1495.7 345.7,1517.2 331.7,1508.3 311.5,1493.1 314.0,1480.5 310.2,1474.8 304.5,1477.3 302.6,1491.9 294.2,1510.8 279.0,1524.1 234.7,1504.5" fill="#ffaa00" stroke="#000" stroke-width="1.15" stroke-linejoin="round"/>
<polygon points="235.4,1477.9 263.8,1462.8 287.9,1460.9 294.8,1471.0 297.4,1490.6 294.2,1505.8 279.0,1519.7 247.4,1504.5" fill="#ff5500" stroke="#000" stroke-width="1.15" stroke-linejoin="round"/>
<polygon points="310.2,1462.8 372.2,1465.9 360.8,1485.5 355.8,1490.6 345.7,1513.4 340.6,1510.8 325.4,1496.9 324.2,1481.7" fill="#ff5500" stroke="#000" stroke-width="1.15" stroke-linejoin="round"/>
<polygon points="401.3,1469.7 425.3,1469.1 416.5,1480.5 405.1,1486.2" fill="#ff5500" stroke="#000" stroke-width="1.15" stroke-linejoin="round"/>
<polygon points="404.5,1490.6 408.3,1491.9 410.8,1498.2 409.5,1505.8 405.7,1500.7 403.2,1494.4" fill="#ff5500" stroke="#000" stroke-width="1.15" stroke-linejoin="round"/>
<polygon points="247.4,1480.5 276.5,1467.2 284.7,1465.9 289.1,1472.9 294.2,1489.3 289.1,1504.5 279.0,1515.9 257.5,1505.1 253.1,1491.9" fill="none" stroke="#000" stroke-width="1.15" stroke-linejoin="round" stroke-linecap="round" />
<polygon points="337.4,1466.6 366.5,1468.5 358.3,1483.6 353.2,1488.1 343.8,1508.9 333.6,1495.7 336.2,1485.5 341.9,1480.5" fill="none" stroke="#000" stroke-width="1.15" stroke-linejoin="round" stroke-linecap="round" />
<polygon points="408.3,1474.2 420.9,1473.1 408.9,1482.4" fill="none" stroke="#000" stroke-width="1.15" stroke-linejoin="round" stroke-linecap="round" />
<polygon points="426.6,1468.1 414.6,1482.4 418.0,1484.5" fill="#1a1400"/>
<polyline points="426.6,1468.1 411.4,1487.1" fill="none" stroke="#000" stroke-width="0.70" stroke-linejoin="round" stroke-linecap="round" />
<polyline points="426.6,1468.1 420.3,1483.6" fill="none" stroke="#000" stroke-width="0.70" stroke-linejoin="round" stroke-linecap="round" />
</g>
<g stroke="#4d4d4d" stroke-width="1" fill="none" shape-rendering="crispEdges">
<rect x="118.9" y="1240.6" width="527.7" height="527.4"/>
<path d="M118.9 1768.0v5.5M118.9 1240.6v-5.5M118.9 1240.6h-5.5M646.6 1240.6h5.5"/>
<path d="M171.7 1768.0v5.5M171.7 1240.6v-5.5M118.9 1293.3h-5.5M646.6 1293.3h5.5"/>
<path d="M224.4 1768.0v5.5M224.4 1240.6v-5.5M118.9 1346.1h-5.5M646.6 1346.1h5.5"/>
<path d="M277.2 1768.0v5.5M277.2 1240.6v-5.5M118.9 1398.8h-5.5M646.6 1398.8h5.5"/>
<path d="M330.0 1768.0v5.5M330.0 1240.6v-5.5M118.9 1451.6h-5.5M646.6 1451.6h5.5"/>
<path d="M382.8 1768.0v5.5M382.8 1240.6v-5.5M118.9 1504.3h-5.5M646.6 1504.3h5.5"/>
<path d="M435.5 1768.0v5.5M435.5 1240.6v-5.5M118.9 1557.0h-5.5M646.6 1557.0h5.5"/>
<path d="M488.3 1768.0v5.5M488.3 1240.6v-5.5M118.9 1609.8h-5.5M646.6 1609.8h5.5"/>
<path d="M541.1 1768.0v5.5M541.1 1240.6v-5.5M118.9 1662.5h-5.5M646.6 1662.5h5.5"/>
<path d="M593.8 1768.0v5.5M593.8 1240.6v-5.5M118.9 1715.3h-5.5M646.6 1715.3h5.5"/>
<path d="M646.6 1768.0v5.5M646.6 1240.6v-5.5M118.9 1768.0h-5.5M646.6 1768.0h5.5"/>
</g>
<g font-size="18.67" fill="#262626">
<text x="118.9" y="1799.0" text-anchor="middle">-50</text>
<text x="106.9" y="1775.0" text-anchor="end">-50</text>
<text x="171.7" y="1799.0" text-anchor="middle">-40</text>
<text x="106.9" y="1722.3" text-anchor="end">-40</text>
<text x="224.4" y="1799.0" text-anchor="middle">-30</text>
<text x="106.9" y="1669.5" text-anchor="end">-30</text>
<text x="277.2" y="1799.0" text-anchor="middle">-20</text>
<text x="106.9" y="1616.8" text-anchor="end">-20</text>
<text x="330.0" y="1799.0" text-anchor="middle">-10</text>
<text x="106.9" y="1564.0" text-anchor="end">-10</text>
<text x="382.8" y="1799.0" text-anchor="middle">0</text>
<text x="106.9" y="1511.3" text-anchor="end">0</text>
<text x="435.5" y="1799.0" text-anchor="middle">10</text>
<text x="106.9" y="1458.6" text-anchor="end">10</text>
<text x="488.3" y="1799.0" text-anchor="middle">20</text>
<text x="106.9" y="1405.8" text-anchor="end">20</text>
<text x="541.1" y="1799.0" text-anchor="middle">30</text>
<text x="106.9" y="1353.1" text-anchor="end">30</text>
<text x="593.8" y="1799.0" text-anchor="middle">40</text>
<text x="106.9" y="1300.3" text-anchor="end">40</text>
<text x="646.6" y="1799.0" text-anchor="middle">50</text>
<text x="106.9" y="1247.6" text-anchor="end">50</text>
</g>
<g shape-rendering="crispEdges">
<rect x="671.5" y="1715.3" width="30.5" height="53.2" fill="#0000aa"/>
<rect x="671.5" y="1662.5" width="30.5" height="53.2" fill="#0000ff"/>
<rect x="671.5" y="1609.8" width="30.5" height="53.2" fill="#0055ff"/>
<rect x="671.5" y="1557.0" width="30.5" height="53.2" fill="#00aaff"/>
<rect x="671.5" y="1504.3" width="30.5" height="53.2" fill="#00ffff"/>
<rect x="671.5" y="1451.6" width="30.5" height="53.2" fill="#55ffaa"/>
<rect x="671.5" y="1398.8" width="30.5" height="53.2" fill="#aaff55"/>
<rect x="671.5" y="1346.1" width="30.5" height="53.2" fill="#ffff00"/>
<rect x="671.5" y="1293.3" width="30.5" height="53.2" fill="#ffaa00"/>
<rect x="671.5" y="1240.6" width="30.5" height="53.2" fill="#ff5500"/>
<rect x="671.5" y="1240.6" width="30.5" height="527.4" fill="none" stroke="#4d4d4d" stroke-width="1"/>
<path d="M702.0 1715.3h-4.5" stroke="#333" stroke-width="1"/>
<path d="M702.0 1662.5h-4.5" stroke="#333" stroke-width="1"/>
<path d="M702.0 1609.8h-4.5" stroke="#333" stroke-width="1"/>
<path d="M702.0 1557.0h-4.5" stroke="#333" stroke-width="1"/>
<path d="M702.0 1504.3h-4.5" stroke="#333" stroke-width="1"/>
<path d="M702.0 1451.6h-4.5" stroke="#333" stroke-width="1"/>
<path d="M702.0 1398.8h-4.5" stroke="#333" stroke-width="1"/>
<path d="M702.0 1346.1h-4.5" stroke="#333" stroke-width="1"/>
<path d="M702.0 1293.3h-4.5" stroke="#333" stroke-width="1"/>
</g>
<g font-size="16.8" fill="#262626">
<text x="709.3" y="1774.3">0</text>
<text x="709.3" y="1721.6">0.5</text>
<text x="709.3" y="1668.8">1</text>
<text x="709.3" y="1616.1">1.5</text>
<text x="709.3" y="1563.3">2</text>
<text x="709.3" y="1510.6">2.5</text>
<text x="709.3" y="1457.9">3</text>
<text x="709.3" y="1405.1">3.5</text>
<text x="709.3" y="1352.4">4</text>
<text x="709.3" y="1299.6">4.5</text>
<text x="709.3" y="1246.9">5</text>
</g>
<clipPath id="c6"><polygon points="1059.8,1228.0 1106.5,1232.1 1151.7,1244.2 1194.2,1264.0 1232.6,1290.9 1265.7,1324.1 1292.6,1362.5 1312.4,1404.9 1324.5,1450.2 1328.6,1496.9 1324.5,1543.6 1312.4,1588.9 1292.6,1631.3 1265.7,1669.7 1232.6,1702.9 1194.2,1729.8 1151.7,1749.6 1106.5,1761.7 1059.8,1765.8 1013.1,1761.7 967.9,1749.6 925.4,1729.8 887.0,1702.9 853.9,1669.7 827.0,1631.4 807.2,1588.9 795.1,1543.6 791.0,1496.9 795.1,1450.2 807.2,1404.9 827.0,1362.5 853.9,1324.1 887.0,1290.9 925.4,1264.0 967.9,1244.2 1013.1,1232.1"/></clipPath>
<g clip-path="url(#c6)">
<polygon points="700.0,1200.0 1423.0,1200.0 1423.0,1800.0 700.0,1800.0" fill="#0000ff"/>
<polygon points="1271.9,1283.0 1247.5,1307.4 1237.3,1357.7 1220.8,1408.9 1193.2,1452.2 1181.4,1487.6 1180.6,1497.7 1191.3,1539.0 1196.4,1578.4 1199.5,1613.8 1189.3,1651.2 1149.9,1694.5 1106.6,1747.6 1071.2,1764.9 1071.2,1794.8 1370.3,1794.8 1370.3,1204.5" fill="#0000aa" stroke="#000" stroke-width="1.15" stroke-linejoin="round"/>
<polygon points="858.7,1700.4 875.6,1690.5 904.0,1685.4 950.0,1688.6 982.7,1712.2 1014.2,1759.4 1031.9,1764.9 1031.9,1794.8 839.0,1794.8" fill="#0000aa" stroke="#000" stroke-width="1.15" stroke-linejoin="round"/>
<polygon points="1102.7,1180.6 1102.7,1231.8 1142.1,1279.0 1163.7,1312.5 1173.5,1351.8 1177.5,1375.5 1173.5,1412.8 1167.6,1456.1 1163.7,1471.1 1151.9,1463.2 1130.3,1467.1 1106.6,1468.7 1094.8,1475.8 1088.9,1490.2 1088.9,1509.9 1091.9,1517.7 1098.7,1524.6 1132.2,1532.5 1147.0,1547.3 1130.3,1574.5 1100.7,1596.1 1079.1,1608.3 1039.7,1611.8 1000.4,1606.7 968.9,1607.9 935.5,1602.0 862.6,1611.1 815.4,1605.1 760.3,1598.1 740.6,1456.1 740.6,1180.6" fill="#0055ff" stroke="#000" stroke-width="1.15" stroke-linejoin="round"/>
<polygon points="1110.5,1479.4 1139.1,1468.5 1153.8,1481.3 1158.2,1497.1 1147.0,1528.0 1107.6,1518.7 1104.6,1500.0" fill="#0000aa" stroke="#000" stroke-width="1.15" stroke-linejoin="round"/>
<polygon points="793.4,1469.8 798.4,1497.3 791.9,1507.3 762.0,1489.8" fill="#0000ff" stroke="#000" stroke-width="1.15" stroke-linejoin="round"/>
<polygon points="976.8,1212.1 990.5,1237.7 1016.1,1240.5 1063.4,1275.1 1118.4,1324.3 1136.2,1357.7 1144.0,1393.2 1151.9,1428.6 1153.9,1454.2 1142.1,1466.0 1122.4,1467.1 1106.6,1467.9 1093.8,1475.4 1077.1,1498.1 1091.9,1521.7 1100.7,1529.5 1132.2,1529.5 1147.0,1547.3 1106.6,1555.1 1073.2,1559.1 1047.6,1569.9 1018.1,1566.0 998.4,1573.8 966.9,1571.9 931.5,1570.9 917.7,1571.7 864.6,1567.4 835.1,1537.1 856.7,1497.7 852.8,1480.0 846.9,1460.1 806.4,1410.9 772.1,1397.1 772.1,1212.1" fill="#00aaff" stroke="#000" stroke-width="1.15" stroke-linejoin="round"/>
<polygon points="838.2,1368.8 867.4,1334.9 945.3,1302.6 984.6,1298.7 1026.0,1306.6 1071.2,1334.1 1110.6,1371.5 1128.3,1405.0 1138.1,1432.5 1148.0,1450.2 1136.2,1462.0 1118.4,1464.8 1096.8,1472.5 1092.8,1474.8 1077.1,1498.1 1088.9,1515.8 1091.9,1520.7 1116.5,1544.3 1067.3,1547.3 1037.7,1549.2 1010.2,1553.2 984.6,1556.1 949.2,1553.2 914.8,1551.2 881.5,1527.2 890.2,1495.7 888.2,1480.0 874.5,1460.1 843.8,1412.8" fill="#00ffff" stroke="#000" stroke-width="1.15" stroke-linejoin="round"/>
<polygon points="979.7,1489.2 987.6,1521.7 980.7,1525.6" fill="#00aaff" stroke="#000" stroke-width="1.15" stroke-linejoin="round"/>
<polygon points="874.5,1391.2 898.1,1365.6 933.5,1347.9 966.9,1336.1 1031.9,1349.9 1071.2,1373.5 1106.6,1405.0 1126.3,1432.5 1140.1,1452.2 1132.2,1459.3 1116.5,1462.0 1098.7,1470.9 1093.2,1474.1 1067.3,1498.1 1067.3,1534.5 1037.7,1537.4 1010.2,1543.3 980.7,1543.3 992.5,1532.5 1018.1,1526.6 998.4,1490.2 983.6,1469.5 978.7,1468.5 968.9,1505.9 961.0,1540.4 943.3,1537.4 913.8,1522.7 912.8,1496.1 900.0,1468.5 874.5,1428.6" fill="#55ffaa" stroke="#000" stroke-width="1.15" stroke-linejoin="round"/>
<polygon points="898.1,1405.0 921.7,1381.4 953.2,1368.8 984.6,1367.6 1039.7,1381.4 1075.2,1401.0 1106.6,1426.6 1126.3,1444.3 1134.2,1456.1 1114.5,1460.9 1100.7,1469.5 1093.8,1473.1 1057.4,1498.1 1041.7,1529.5 1021.0,1529.5 1025.9,1517.7 1004.3,1480.4 990.5,1467.6 975.8,1466.6 966.9,1498.1 958.0,1529.5 935.4,1518.7 911.8,1470.5 900.0,1444.9 900.0,1434.5" fill="#aaff55" stroke="#000" stroke-width="1.15" stroke-linejoin="round"/>
<polygon points="956.1,1520.7 947.2,1515.8 925.6,1472.5 916.7,1443.0 921.6,1416.4 941.3,1397.7 965.9,1386.9 994.5,1393.8 1045.6,1403.6 1077.1,1421.3 1118.4,1446.9 1104.6,1465.6 1057.4,1498.1 1025.9,1509.9 1009.2,1474.5 988.5,1465.6 972.8,1465.0" fill="#ffff00" stroke="#000" stroke-width="1.15" stroke-linejoin="round"/>
<polygon points="953.1,1507.9 934.4,1474.5 930.5,1448.9 936.4,1426.2 955.1,1409.5 981.7,1404.6 1010.2,1412.5 1041.7,1416.4 1071.2,1431.2 1114.5,1451.8 1098.7,1469.5 1057.4,1490.2 1023.0,1498.1 1014.1,1470.5 986.6,1463.6 967.9,1464.2" fill="#ffaa00" stroke="#000" stroke-width="1.15" stroke-linejoin="round"/>
<polygon points="952.1,1495.1 942.3,1476.4 940.3,1450.8 951.2,1431.2 967.9,1420.3 984.6,1419.4 1014.1,1428.2 1045.6,1430.2 1077.1,1443.0 1109.6,1456.7 1094.8,1472.5 1057.4,1482.3 1024.0,1484.3 1015.1,1468.5 986.6,1462.6 964.9,1463.6" fill="#ff5500" stroke="#000" stroke-width="1.15" stroke-linejoin="round"/>
<polygon points="953.1,1484.3 949.2,1476.4 948.2,1455.8 958.0,1440.0 978.7,1431.6 1010.2,1438.0 1041.7,1440.0 1077.1,1452.8 1105.6,1461.7 1091.9,1474.5 1057.4,1472.5 1025.9,1482.3 1016.1,1467.6 986.6,1461.7 964.9,1462.6" fill="none" stroke="#000" stroke-width="1.15" stroke-linejoin="round" stroke-linecap="round" />
<clipPath id="w6"><ellipse cx="1056.9" cy="1496.6" rx="31.8" ry="33.6"/></clipPath>
<g clip-path="url(#w6)">
<polygon points="1010.0,1448.0 1110.0,1448.0 1110.0,1543.0 1010.0,1543.0" fill="#00aaff"/>
<polygon points="1024.1,1482.4 1031.1,1482.4 1040.9,1472.2 1046.5,1472.6 1053.6,1478.9 1059.2,1488.8 1064.8,1501.4 1071.1,1511.2 1078.9,1517.6 1083.1,1519.7 1083.1,1532.3 1101.4,1532.3 1101.4,1455.0 1024.1,1455.0" fill="#00ffff" stroke="#000" stroke-width="1.15" stroke-linejoin="round"/>
<polygon points="1061.3,1455.0 1061.3,1465.2 1064.8,1476.1 1069.7,1490.2 1075.4,1501.4 1082.4,1509.8 1088.0,1514.1 1101.4,1514.1 1101.4,1455.0" fill="#55ffaa" stroke="#000" stroke-width="1.15" stroke-linejoin="round"/>
<polygon points="1073.6,1455.0 1073.6,1468.4 1076.1,1479.6 1079.6,1491.6 1083.8,1500.7 1086.6,1504.2 1101.4,1504.2 1101.4,1455.0" fill="#aaff55" stroke="#000" stroke-width="1.15" stroke-linejoin="round"/>
<polygon points="1080.3,1455.0 1080.3,1473.3 1082.4,1483.1 1084.5,1491.6 1086.2,1497.2 1101.4,1497.2 1101.4,1455.0" fill="#ffff00" stroke="#000" stroke-width="1.15" stroke-linejoin="round"/>
<polygon points="1020.5,1485.2 1032.5,1485.9 1033.9,1490.2 1032.5,1497.2 1034.6,1506.3 1032.5,1510.5 1020.5,1511.2" fill="#0055ff" stroke="#000" stroke-width="1.15" stroke-linejoin="round"/>
<polygon points="1040.9,1523.2 1046.5,1522.5 1059.2,1526.0 1067.6,1528.1 1064.8,1529.5 1052.2,1528.1 1043.7,1525.3" fill="#0055ff" stroke="#000" stroke-width="1.15" stroke-linejoin="round"/>
</g>
<ellipse cx="1056.9" cy="1496.6" rx="31.8" ry="33.6" fill="none" stroke="#000" stroke-width="1.1"/>
<polyline points="1030.4,1516.2 1029.2,1514.4 1028.2,1512.5 1027.3,1510.5 1026.5,1508.5 1025.9,1506.5 1025.3,1504.4 1024.9,1502.2 1024.7,1500.1 1024.5,1497.9 1024.5,1495.7 1024.6,1493.6 1024.9,1491.4 1025.3,1489.3 1025.8,1487.1 1026.4,1485.1 1027.1,1483.1 1028.0,1481.1 1029.0,1479.2 1030.1,1477.3 1031.3,1475.6 1032.7,1473.9 1034.1,1472.3 1035.6,1470.8 1037.2,1469.5 1038.9,1468.2 1040.6,1467.0 1042.4,1466.0 1044.3,1465.1 1046.2,1464.3 1048.2,1463.7 1050.2,1463.1 1052.2,1462.8 1054.3,1462.5 1056.3,1462.4 1058.4,1462.4 1060.4,1462.6 1062.5,1462.9 1064.5,1463.4 1066.5,1463.9 1068.4,1464.6 1070.3,1465.5 1072.2,1466.4 1074.0,1467.5 1075.7,1468.7 1077.3,1470.0 1078.9,1471.5 1080.3,1473.0 1081.7,1474.6" fill="none" stroke="#000" stroke-width="3.90" stroke-linejoin="round" stroke-linecap="butt" />
<polyline points="1081.9,1474.5 1082.4,1475.2 1083.0,1476.0 1083.5,1476.7 1084.0,1477.5 1084.5,1478.3 1085.0,1479.1 1085.4,1479.9 1085.8,1480.7 1086.2,1481.6 1086.6,1482.4 1086.9,1483.3 1087.3,1484.1 1087.6,1485.0 1087.9,1485.9 1088.1,1486.8 1088.4,1487.7 1088.6,1488.6 1088.8,1489.5 1089.0,1490.4 1089.1,1491.4 1089.2,1492.3 1089.3,1493.2 1089.4,1494.2 1089.5,1495.1 1089.5,1496.0 1089.5,1497.0 1089.5,1497.9 1089.4,1498.8 1089.4,1499.8 1089.3,1500.7 1089.1,1501.6 1089.0,1502.6 1088.8,1503.5 1088.6,1504.4 1088.4,1505.3 1088.2,1506.2 1087.9,1507.1 1087.7,1508.0 1087.3,1508.9 1087.0,1509.8 1086.7,1510.6 1086.3,1511.5 1085.9,1512.3 1085.5,1513.1 1085.0,1514.0 1084.6,1514.8 1084.1,1515.6 1083.6,1516.3" fill="none" stroke="#000" stroke-width="4.20" stroke-linejoin="round" stroke-linecap="butt" />
<polyline points="1045.5,1529.7 1045.0,1529.5 1044.6,1529.3 1044.1,1529.1 1043.7,1528.9 1043.2,1528.7 1042.8,1528.5 1042.3,1528.3 1041.9,1528.1 1041.5,1527.8 1041.0,1527.6 1040.6,1527.3 1040.2,1527.1 1039.8,1526.8 1039.4,1526.6 1039.0,1526.3 1038.5,1526.0 1038.1,1525.7 1037.7,1525.4 1037.3,1525.1 1037.0,1524.8 1036.6,1524.5 1036.2,1524.2 1035.8,1523.9 1035.4,1523.6 1035.1,1523.2 1034.7,1522.9 1034.3,1522.6 1034.0,1522.2 1033.6,1521.8 1033.3,1521.5 1032.9,1521.1 1032.6,1520.8 1032.3,1520.4 1031.9,1520.0 1031.6,1519.6 1031.3,1519.2 1031.0,1518.8 1030.7,1518.4 1030.4,1518.0 1030.1,1517.6 1029.8,1517.2 1029.5,1516.8 1029.3,1516.4 1029.0,1515.9 1028.7,1515.5 1028.5,1515.1 1028.2,1514.6 1028.0,1514.2" fill="none" stroke="#000" stroke-width="0.90" stroke-linejoin="round" stroke-linecap="butt" />
<polyline points="1064.7,1527.5 1064.0,1527.7 1063.2,1527.9 1062.5,1528.1 1061.7,1528.2 1061.0,1528.3 1060.2,1528.4 1059.4,1528.5 1058.7,1528.5 1057.9,1528.6 1057.1,1528.6 1056.4,1528.6 1055.6,1528.6 1054.8,1528.5 1054.0,1528.5 1053.3,1528.4 1052.5,1528.3 1051.8,1528.1 1051.0,1528.0 1050.3,1527.8 1049.5,1527.6 1048.8,1527.4 1048.0,1527.2 1047.3,1526.9 1046.6,1526.7 1045.9,1526.4 1045.1,1526.1 1044.4,1525.7 1043.7,1525.4 1043.1,1525.0 1042.4,1524.7 1041.7,1524.3 1041.0,1523.8 1040.4,1523.4 1039.8,1522.9 1039.1,1522.5 1038.5,1522.0 1037.9,1521.5 1037.3,1521.0 1036.7,1520.4 1036.2,1519.9 1035.6,1519.3 1035.1,1518.7 1034.6,1518.1 1034.1,1517.5 1033.6,1516.9 1033.1,1516.3 1032.6,1515.6 1032.2,1515.0" fill="none" stroke="#000" stroke-width="0.90" stroke-linejoin="round" stroke-linecap="butt" />
<polyline points="1066.6,1525.0 1066.0,1525.2 1065.3,1525.4 1064.7,1525.6 1064.1,1525.8 1063.4,1526.0 1062.7,1526.2 1062.1,1526.3 1061.4,1526.4 1060.8,1526.5 1060.1,1526.6 1059.4,1526.7 1058.8,1526.7 1058.1,1526.8 1057.4,1526.8 1056.7,1526.8 1056.1,1526.8 1055.4,1526.8 1054.7,1526.7 1054.1,1526.6 1053.4,1526.6 1052.7,1526.5 1052.1,1526.4 1051.4,1526.2 1050.8,1526.1 1050.1,1525.9 1049.4,1525.7 1048.8,1525.5 1048.2,1525.3 1047.5,1525.1 1046.9,1524.9 1046.3,1524.6 1045.7,1524.3 1045.0,1524.0 1044.4,1523.7 1043.8,1523.4 1043.2,1523.1 1042.7,1522.7 1042.1,1522.4 1041.5,1522.0 1041.0,1521.6 1040.4,1521.2 1039.9,1520.8 1039.3,1520.3 1038.8,1519.9 1038.3,1519.4 1037.8,1518.9 1037.3,1518.5 1036.8,1518.0" fill="none" stroke="#000" stroke-width="0.90" stroke-linejoin="round" stroke-linecap="butt" />
<polygon points="1090.8,1485.9 1094.3,1490.2 1095.4,1497.2 1093.6,1509.1 1090.8,1509.8 1091.9,1497.2" fill="#0018e0" stroke="#000" stroke-width="1.15" stroke-linejoin="round"/>
<polygon points="1090.8,1478.2 1095.4,1477.5 1094.3,1482.4 1090.8,1483.5" fill="#0055ff" stroke="#000" stroke-width="0.80" stroke-linejoin="round"/>
</g>
<g stroke="#4d4d4d" stroke-width="1" fill="none" shape-rendering="crispEdges">
<rect x="791.0" y="1228.0" width="537.6" height="537.8"/>
<path d="M791.0 1765.8v5.5M791.0 1228.0v-5.5M791.0 1228.0h-5.5M1328.6 1228.0h5.5"/>
<path d="M844.8 1765.8v5.5M844.8 1228.0v-5.5M791.0 1281.8h-5.5M1328.6 1281.8h5.5"/>
<path d="M898.5 1765.8v5.5M898.5 1228.0v-5.5M791.0 1335.6h-5.5M1328.6 1335.6h5.5"/>
<path d="M952.3 1765.8v5.5M952.3 1228.0v-5.5M791.0 1389.3h-5.5M1328.6 1389.3h5.5"/>
<path d="M1006.0 1765.8v5.5M1006.0 1228.0v-5.5M791.0 1443.1h-5.5M1328.6 1443.1h5.5"/>
<path d="M1059.8 1765.8v5.5M1059.8 1228.0v-5.5M791.0 1496.9h-5.5M1328.6 1496.9h5.5"/>
<path d="M1113.6 1765.8v5.5M1113.6 1228.0v-5.5M791.0 1550.7h-5.5M1328.6 1550.7h5.5"/>
<path d="M1167.3 1765.8v5.5M1167.3 1228.0v-5.5M791.0 1604.5h-5.5M1328.6 1604.5h5.5"/>
<path d="M1221.1 1765.8v5.5M1221.1 1228.0v-5.5M791.0 1658.2h-5.5M1328.6 1658.2h5.5"/>
<path d="M1274.8 1765.8v5.5M1274.8 1228.0v-5.5M791.0 1712.0h-5.5M1328.6 1712.0h5.5"/>
<path d="M1328.6 1765.8v5.5M1328.6 1228.0v-5.5M791.0 1765.8h-5.5M1328.6 1765.8h5.5"/>
</g>
<g font-size="18.67" fill="#262626">
<text x="791.0" y="1796.8" text-anchor="middle">-50</text>
<text x="778.0" y="1772.8" text-anchor="end">-50</text>
<text x="844.8" y="1796.8" text-anchor="middle">-40</text>
<text x="778.0" y="1719.0" text-anchor="end">-40</text>
<text x="898.5" y="1796.8" text-anchor="middle">-30</text>
<text x="778.0" y="1665.2" text-anchor="end">-30</text>
<text x="952.3" y="1796.8" text-anchor="middle">-20</text>
<text x="778.0" y="1611.5" text-anchor="end">-20</text>
<text x="1006.0" y="1796.8" text-anchor="middle">-10</text>
<text x="778.0" y="1557.7" text-anchor="end">-10</text>
<text x="1059.8" y="1796.8" text-anchor="middle">0</text>
<text x="778.0" y="1503.9" text-anchor="end">0</text>
<text x="1113.6" y="1796.8" text-anchor="middle">10</text>
<text x="778.0" y="1450.1" text-anchor="end">10</text>
<text x="1167.3" y="1796.8" text-anchor="middle">20</text>
<text x="778.0" y="1396.3" text-anchor="end">20</text>
<text x="1221.1" y="1796.8" text-anchor="middle">30</text>
<text x="778.0" y="1342.6" text-anchor="end">30</text>
<text x="1274.8" y="1796.8" text-anchor="middle">40</text>
<text x="778.0" y="1288.8" text-anchor="end">40</text>
<text x="1328.6" y="1796.8" text-anchor="middle">50</text>
<text x="778.0" y="1235.0" text-anchor="end">50</text>
</g>
<g shape-rendering="crispEdges">
<rect x="1354.0" y="1712.0" width="31.0" height="54.3" fill="#0000aa"/>
<rect x="1354.0" y="1658.2" width="31.0" height="54.3" fill="#0000ff"/>
<rect x="1354.0" y="1604.5" width="31.0" height="54.3" fill="#0055ff"/>
<rect x="1354.0" y="1550.7" width="31.0" height="54.3" fill="#00aaff"/>
<rect x="1354.0" y="1496.9" width="31.0" height="54.3" fill="#00ffff"/>
<rect x="1354.0" y="1443.1" width="31.0" height="54.3" fill="#55ffaa"/>
<rect x="1354.0" y="1389.3" width="31.0" height="54.3" fill="#aaff55"/>
<rect x="1354.0" y="1335.6" width="31.0" height="54.3" fill="#ffff00"/>
<rect x="1354.0" y="1281.8" width="31.0" height="54.3" fill="#ffaa00"/>
<rect x="1354.0" y="1228.0" width="31.0" height="54.3" fill="#ff5500"/>
<rect x="1354.0" y="1228.0" width="31.0" height="537.8" fill="none" stroke="#4d4d4d" stroke-width="1"/>
<path d="M1385.0 1712.0h-4.5" stroke="#333" stroke-width="1"/>
<path d="M1385.0 1658.2h-4.5" stroke="#333" stroke-width="1"/>
<path d="M1385.0 1604.5h-4.5" stroke="#333" stroke-width="1"/>
<path d="M1385.0 1550.7h-4.5" stroke="#333" stroke-width="1"/>
<path d="M1385.0 1496.9h-4.5" stroke="#333" stroke-width="1"/>
<path d="M1385.0 1443.1h-4.5" stroke="#333" stroke-width="1"/>
<path d="M1385.0 1389.3h-4.5" stroke="#333" stroke-width="1"/>
<path d="M1385.0 1335.6h-4.5" stroke="#333" stroke-width="1"/>
<path d="M1385.0 1281.8h-4.5" stroke="#333" stroke-width="1"/>
</g>
<g font-size="16.8" fill="#262626">
<text x="1392.3" y="1772.1">0</text>
<text x="1392.3" y="1718.3">0.5</text>
<text x="1392.3" y="1664.5">1</text>
<text x="1392.3" y="1610.8">1.5</text>
<text x="1392.3" y="1557.0">2</text>
<text x="1392.3" y="1503.2">2.5</text>
<text x="1392.3" y="1449.4">3</text>
<text x="1392.3" y="1395.6">3.5</text>
<text x="1392.3" y="1341.9">4</text>
<text x="1392.3" y="1288.1">4.5</text>
<text x="1392.3" y="1234.3">5</text>
</g>
<g font-size="34.6" fill="#000">
<text x="363.2" y="25.7" text-anchor="middle">GS-MW</text>
<text x="1042.3" y="25.7" text-anchor="middle">GS-NW</text>
<text transform="translate(25.1 283.5) rotate(-90)" text-anchor="middle">z = 4 m</text>
<text transform="translate(25.1 846.9) rotate(-90)" text-anchor="middle">z = 2 m</text>
<text transform="translate(25.1 1451.9) rotate(-90)" text-anchor="middle">z = 0</text>
</g>
</svg>
</body></html>
